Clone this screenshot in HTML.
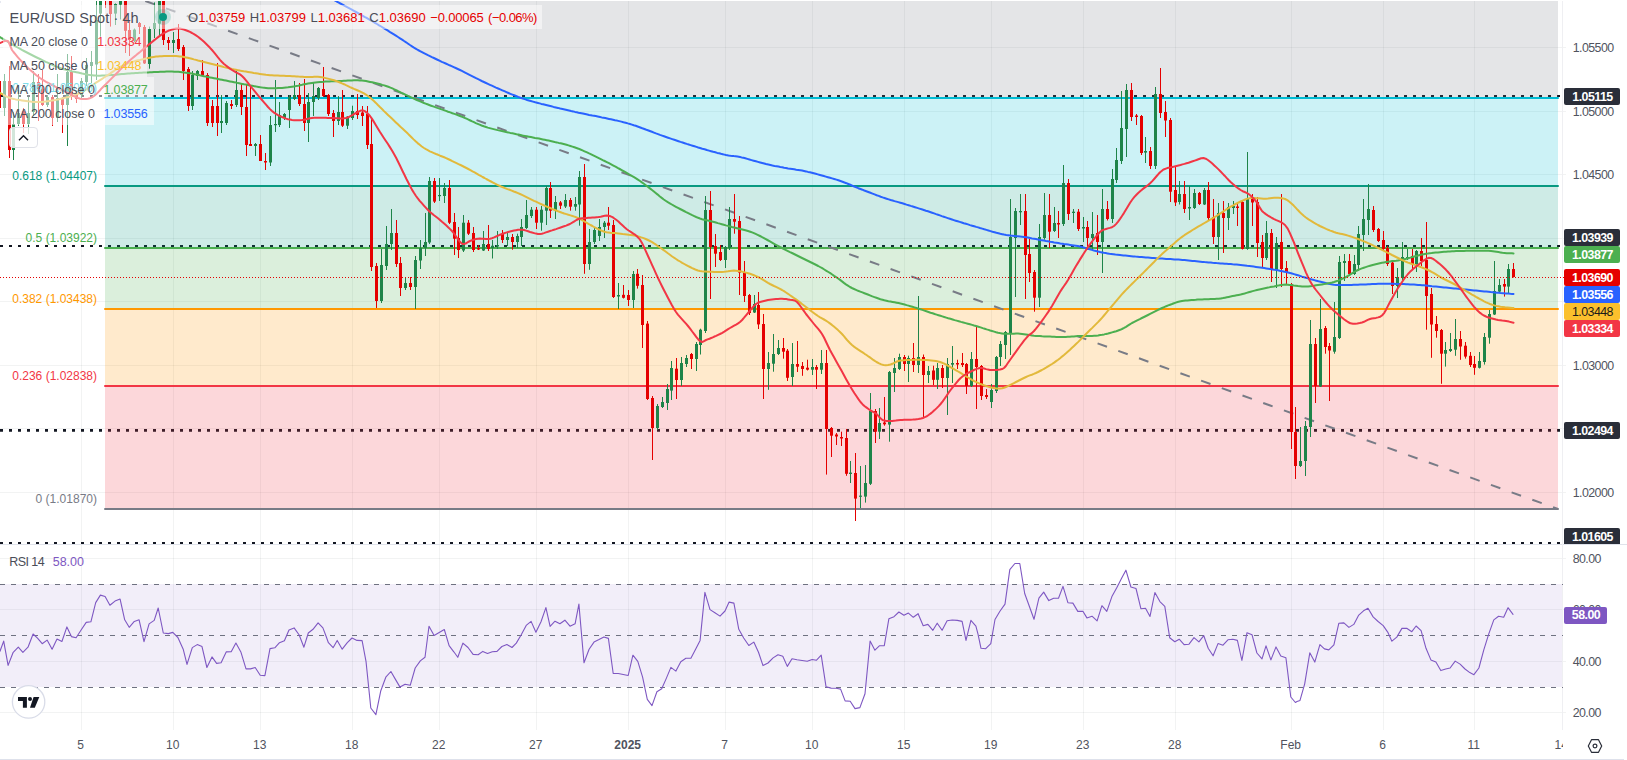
<!DOCTYPE html>
<html><head><meta charset="utf-8"><title>EUR/USD Spot 4h</title>
<style>
html,body{margin:0;padding:0;background:#fff;}
body{width:1627px;height:760px;overflow:hidden;position:relative;font-family:"Liberation Sans",sans-serif;color:#131722;}
#wrap{position:absolute;left:0;top:0;width:1627px;height:760px;overflow:hidden;box-sizing:border-box;border-top:1px solid #fff;}
#wrap>svg.chart{position:absolute;left:0;top:-1px;}
#ov{position:absolute;left:0;top:-1px;width:1627px;height:760px;}
.pl{position:absolute;left:1564px;width:56px;border-radius:2px;font-size:12.4px;font-weight:bold;text-align:center;letter-spacing:-0.55px;box-sizing:border-box;padding-left:1px}
.tk{position:absolute;left:1572.7px;font-size:12.4px;line-height:16px;color:#50535e;letter-spacing:-0.55px}
.tl{position:absolute;top:7px;width:60px;text-align:center;font-size:12px;line-height:16px;color:#50535e}
.fl{position:absolute;left:0;text-align:right;font-size:12px;line-height:16px;letter-spacing:0px;white-space:nowrap}
.lg{position:absolute;background:rgba(255,255,255,0.5)}
.lgt{position:absolute;line-height:22px;color:#4a4d58;white-space:nowrap}
.ohlc{position:absolute;font-size:13px;line-height:18px;color:#e50000;white-space:nowrap;letter-spacing:0px;word-spacing:0.9px}
.ohlc .k{color:#4a4d58;margin-right:0px}
.mal{position:absolute;font-size:12.5px;line-height:16px;color:#4a4d58;white-space:nowrap;letter-spacing:0px}
#bot{position:absolute;left:0;top:758px;width:1624px;height:1px;background:#dee1eb}
#top{position:absolute;left:0;top:-1px;width:1624px;height:1px;background:#dee1eb}
#cor{position:absolute;left:0;top:0;width:1px;height:2px;background:#e6e8f0}
</style></head>
<body>
<div id="wrap">
<svg class="chart" width="1627" height="760" viewBox="0 0 1627 760" shape-rendering="auto">
<line x1="81.5" y1="0" x2="81.5" y2="730" stroke="rgba(42,46,57,0.06)" stroke-width="1"/>
<line x1="173.5" y1="0" x2="173.5" y2="730" stroke="rgba(42,46,57,0.06)" stroke-width="1"/>
<line x1="260.5" y1="0" x2="260.5" y2="730" stroke="rgba(42,46,57,0.06)" stroke-width="1"/>
<line x1="352.5" y1="0" x2="352.5" y2="730" stroke="rgba(42,46,57,0.06)" stroke-width="1"/>
<line x1="439.5" y1="0" x2="439.5" y2="730" stroke="rgba(42,46,57,0.06)" stroke-width="1"/>
<line x1="536.5" y1="0" x2="536.5" y2="730" stroke="rgba(42,46,57,0.06)" stroke-width="1"/>
<line x1="628.5" y1="0" x2="628.5" y2="730" stroke="rgba(42,46,57,0.06)" stroke-width="1"/>
<line x1="725.5" y1="0" x2="725.5" y2="730" stroke="rgba(42,46,57,0.06)" stroke-width="1"/>
<line x1="812.5" y1="0" x2="812.5" y2="730" stroke="rgba(42,46,57,0.06)" stroke-width="1"/>
<line x1="904.5" y1="0" x2="904.5" y2="730" stroke="rgba(42,46,57,0.06)" stroke-width="1"/>
<line x1="991.5" y1="0" x2="991.5" y2="730" stroke="rgba(42,46,57,0.06)" stroke-width="1"/>
<line x1="1083.5" y1="0" x2="1083.5" y2="730" stroke="rgba(42,46,57,0.06)" stroke-width="1"/>
<line x1="1175.5" y1="0" x2="1175.5" y2="730" stroke="rgba(42,46,57,0.06)" stroke-width="1"/>
<line x1="1291.5" y1="0" x2="1291.5" y2="730" stroke="rgba(42,46,57,0.06)" stroke-width="1"/>
<line x1="1383.5" y1="0" x2="1383.5" y2="730" stroke="rgba(42,46,57,0.06)" stroke-width="1"/>
<line x1="1474.5" y1="0" x2="1474.5" y2="730" stroke="rgba(42,46,57,0.06)" stroke-width="1"/>
<line x1="0" y1="47.5" x2="1566" y2="47.5" stroke="rgba(42,46,57,0.06)" stroke-width="1"/>
<line x1="0" y1="111.5" x2="1566" y2="111.5" stroke="rgba(42,46,57,0.06)" stroke-width="1"/>
<line x1="0" y1="174.5" x2="1566" y2="174.5" stroke="rgba(42,46,57,0.06)" stroke-width="1"/>
<line x1="0" y1="238.5" x2="1566" y2="238.5" stroke="rgba(42,46,57,0.06)" stroke-width="1"/>
<line x1="0" y1="301.5" x2="1566" y2="301.5" stroke="rgba(42,46,57,0.06)" stroke-width="1"/>
<line x1="0" y1="365.5" x2="1566" y2="365.5" stroke="rgba(42,46,57,0.06)" stroke-width="1"/>
<line x1="0" y1="428.5" x2="1566" y2="428.5" stroke="rgba(42,46,57,0.06)" stroke-width="1"/>
<line x1="0" y1="492.5" x2="1566" y2="492.5" stroke="rgba(42,46,57,0.06)" stroke-width="1"/>
<line x1="0" y1="558.5" x2="1566" y2="558.5" stroke="rgba(42,46,57,0.06)" stroke-width="1"/>
<line x1="0" y1="609.5" x2="1566" y2="609.5" stroke="rgba(42,46,57,0.06)" stroke-width="1"/>
<line x1="0" y1="661.5" x2="1566" y2="661.5" stroke="rgba(42,46,57,0.06)" stroke-width="1"/>
<line x1="0" y1="712.5" x2="1566" y2="712.5" stroke="rgba(42,46,57,0.06)" stroke-width="1"/>
<line x1="0" y1="96" x2="1560" y2="96" stroke="#131722" stroke-width="2" stroke-dasharray="3 6"/>
<line x1="0" y1="246" x2="1560" y2="246" stroke="#131722" stroke-width="2" stroke-dasharray="3 6"/>
<line x1="0" y1="430.4" x2="1560" y2="430.4" stroke="#131722" stroke-width="2.7" stroke-dasharray="3 6"/>
<line x1="0" y1="543" x2="1560" y2="543" stroke="#131722" stroke-width="2" stroke-dasharray="3 6"/>
<rect x="105" y="0" width="1453" height="98" fill="rgba(120,123,134,0.2)"/>
<rect x="105" y="98" width="1453" height="88" fill="rgba(0,188,212,0.2)"/>
<rect x="105" y="186" width="1453" height="62" fill="rgba(8,153,129,0.2)"/>
<rect x="105" y="248" width="1453" height="61" fill="rgba(76,175,80,0.2)"/>
<rect x="105" y="309" width="1453" height="77" fill="rgba(255,152,0,0.2)"/>
<rect x="105" y="386" width="1453" height="123" fill="rgba(242,54,69,0.2)"/>
<rect x="0" y="584" width="1563" height="103" fill="rgba(126,87,194,0.1)"/>
<line x1="105" y1="98" x2="1558" y2="98" stroke="#00bcd4" stroke-width="2" stroke-linecap="round"/>
<line x1="105" y1="186" x2="1558" y2="186" stroke="#089981" stroke-width="2" stroke-linecap="round"/>
<line x1="105" y1="248" x2="1558" y2="248" stroke="#4caf50" stroke-width="2" stroke-linecap="round"/>
<line x1="105" y1="309" x2="1558" y2="309" stroke="#ff9800" stroke-width="2" stroke-linecap="round"/>
<line x1="105" y1="386" x2="1558" y2="386" stroke="#f23645" stroke-width="2" stroke-linecap="round"/>
<line x1="105" y1="509" x2="1558" y2="509" stroke="#787b86" stroke-width="2" stroke-linecap="round"/>
<line x1="145.3" y1="0.95" x2="1558" y2="509" stroke="#787b86" stroke-width="2" stroke-dasharray="10 12"/>
<line x1="-0.5" y1="78.0" x2="-0.5" y2="110.0" stroke="#e50000" stroke-width="1"/>
<rect x="-2.0" y="81.0" width="3" height="27.0" fill="#e50000"/>
<line x1="4.5" y1="74.0" x2="4.5" y2="116.0" stroke="#1e8449" stroke-width="1"/>
<rect x="3.0" y="81.0" width="3" height="27.0" fill="#1e8449"/>
<line x1="9.5" y1="66.0" x2="9.5" y2="158.0" stroke="#e50000" stroke-width="1"/>
<rect x="8.0" y="81.0" width="3" height="69.0" fill="#e50000"/>
<line x1="13.5" y1="112.0" x2="13.5" y2="160.0" stroke="#1e8449" stroke-width="1"/>
<rect x="12.0" y="124.0" width="3" height="26.0" fill="#1e8449"/>
<line x1="18.5" y1="90.0" x2="18.5" y2="126.0" stroke="#1e8449" stroke-width="1"/>
<rect x="17.0" y="113.0" width="3" height="11.0" fill="#1e8449"/>
<line x1="23.5" y1="108.0" x2="23.5" y2="133.0" stroke="#e50000" stroke-width="1"/>
<rect x="22.0" y="111.0" width="3" height="13.0" fill="#e50000"/>
<line x1="28.5" y1="97.0" x2="28.5" y2="134.0" stroke="#1e8449" stroke-width="1"/>
<rect x="27.0" y="113.0" width="3" height="11.0" fill="#1e8449"/>
<line x1="33.5" y1="71.0" x2="33.5" y2="116.0" stroke="#1e8449" stroke-width="1"/>
<rect x="32.0" y="82.0" width="3" height="30.0" fill="#1e8449"/>
<line x1="38.5" y1="74.0" x2="38.5" y2="121.0" stroke="#e50000" stroke-width="1"/>
<rect x="37.0" y="82.0" width="3" height="7.0" fill="#e50000"/>
<line x1="42.5" y1="70.0" x2="42.5" y2="106.0" stroke="#e50000" stroke-width="1"/>
<rect x="41.0" y="89.0" width="3" height="16.0" fill="#e50000"/>
<line x1="47.5" y1="95.0" x2="47.5" y2="107.0" stroke="#1e8449" stroke-width="1"/>
<rect x="46.0" y="97.0" width="3" height="8.0" fill="#1e8449"/>
<line x1="52.5" y1="95.0" x2="52.5" y2="126.0" stroke="#e50000" stroke-width="1"/>
<rect x="51.0" y="97.0" width="3" height="21.0" fill="#e50000"/>
<line x1="57.5" y1="74.0" x2="57.5" y2="122.0" stroke="#1e8449" stroke-width="1"/>
<rect x="56.0" y="98.0" width="3" height="20.0" fill="#1e8449"/>
<line x1="62.5" y1="97.0" x2="62.5" y2="133.0" stroke="#e50000" stroke-width="1"/>
<rect x="61.0" y="98.0" width="3" height="7.0" fill="#e50000"/>
<line x1="67.5" y1="54.0" x2="67.5" y2="146.0" stroke="#1e8449" stroke-width="1"/>
<rect x="66.0" y="72.0" width="3" height="33.0" fill="#1e8449"/>
<line x1="71.5" y1="56.0" x2="71.5" y2="100.0" stroke="#e50000" stroke-width="1"/>
<rect x="70.0" y="72.0" width="3" height="25.0" fill="#e50000"/>
<line x1="76.5" y1="91.0" x2="76.5" y2="103.0" stroke="#e50000" stroke-width="1"/>
<rect x="75.0" y="95.0" width="3" height="4.0" fill="#e50000"/>
<line x1="81.5" y1="78.0" x2="81.5" y2="99.0" stroke="#1e8449" stroke-width="1"/>
<rect x="80.0" y="81.0" width="3" height="14.0" fill="#1e8449"/>
<line x1="86.5" y1="58.0" x2="86.5" y2="86.0" stroke="#1e8449" stroke-width="1"/>
<rect x="85.0" y="65.0" width="3" height="17.0" fill="#1e8449"/>
<line x1="91.5" y1="51.0" x2="91.5" y2="83.0" stroke="#1e8449" stroke-width="1"/>
<rect x="90.0" y="62.0" width="3" height="4.0" fill="#1e8449"/>
<line x1="96.5" y1="-5.0" x2="96.5" y2="80.0" stroke="#1e8449" stroke-width="1"/>
<rect x="95.0" y="20.0" width="3" height="44.5" fill="#1e8449"/>
<line x1="100.5" y1="-5.0" x2="100.5" y2="36.7" stroke="#1e8449" stroke-width="1"/>
<rect x="99.0" y="0.0" width="3" height="13.6" fill="#1e8449"/>
<line x1="105.5" y1="-8.0" x2="105.5" y2="8.0" stroke="#e50000" stroke-width="1"/>
<rect x="104.0" y="-5.0" width="3" height="6.0" fill="#e50000"/>
<line x1="110.5" y1="-8.0" x2="110.5" y2="26.6" stroke="#e50000" stroke-width="1"/>
<rect x="109.0" y="-5.0" width="3" height="19.0" fill="#e50000"/>
<line x1="115.5" y1="3.5" x2="115.5" y2="25.0" stroke="#1e8449" stroke-width="1"/>
<rect x="114.0" y="4.0" width="3" height="9.6" fill="#1e8449"/>
<line x1="120.5" y1="-6.0" x2="120.5" y2="19.5" stroke="#1e8449" stroke-width="1"/>
<rect x="119.0" y="-3.0" width="3" height="7.7" fill="#1e8449"/>
<line x1="125.5" y1="-6.0" x2="125.5" y2="53.0" stroke="#e50000" stroke-width="1"/>
<rect x="124.0" y="-3.0" width="3" height="33.8" fill="#e50000"/>
<line x1="129.5" y1="21.0" x2="129.5" y2="56.0" stroke="#e50000" stroke-width="1"/>
<rect x="128.0" y="30.0" width="3" height="10.0" fill="#e50000"/>
<line x1="134.5" y1="28.5" x2="134.5" y2="42.0" stroke="#1e8449" stroke-width="1"/>
<rect x="133.0" y="29.6" width="3" height="11.4" fill="#1e8449"/>
<line x1="139.5" y1="22.0" x2="139.5" y2="34.0" stroke="#e50000" stroke-width="1"/>
<rect x="138.0" y="23.0" width="3" height="4.0" fill="#e50000"/>
<line x1="144.5" y1="25.0" x2="144.5" y2="64.0" stroke="#e50000" stroke-width="1"/>
<rect x="143.0" y="27.0" width="3" height="36.4" fill="#e50000"/>
<line x1="149.5" y1="26.6" x2="149.5" y2="68.7" stroke="#1e8449" stroke-width="1"/>
<rect x="148.0" y="29.0" width="3" height="35.0" fill="#1e8449"/>
<line x1="154.5" y1="2.4" x2="154.5" y2="38.0" stroke="#1e8449" stroke-width="1"/>
<rect x="153.0" y="23.0" width="3" height="6.0" fill="#1e8449"/>
<line x1="159.5" y1="-5.0" x2="159.5" y2="36.0" stroke="#1e8449" stroke-width="1"/>
<rect x="158.0" y="-2.0" width="3" height="25.7" fill="#1e8449"/>
<line x1="163.5" y1="-5.0" x2="163.5" y2="45.0" stroke="#e50000" stroke-width="1"/>
<rect x="162.0" y="-2.0" width="3" height="42.0" fill="#e50000"/>
<line x1="168.5" y1="37.0" x2="168.5" y2="50.0" stroke="#e50000" stroke-width="1"/>
<rect x="167.0" y="40.0" width="3" height="3.0" fill="#e50000"/>
<line x1="173.5" y1="32.0" x2="173.5" y2="53.0" stroke="#1e8449" stroke-width="1"/>
<rect x="172.0" y="40.0" width="3" height="3.0" fill="#1e8449"/>
<line x1="178.5" y1="24.0" x2="178.5" y2="51.0" stroke="#e50000" stroke-width="1"/>
<rect x="177.0" y="39.0" width="3" height="10.0" fill="#e50000"/>
<line x1="183.5" y1="45.0" x2="183.5" y2="80.0" stroke="#e50000" stroke-width="1"/>
<rect x="182.0" y="47.0" width="3" height="24.0" fill="#e50000"/>
<line x1="188.5" y1="67.0" x2="188.5" y2="111.0" stroke="#e50000" stroke-width="1"/>
<rect x="187.0" y="69.0" width="3" height="37.0" fill="#e50000"/>
<line x1="192.5" y1="71.0" x2="192.5" y2="110.0" stroke="#1e8449" stroke-width="1"/>
<rect x="191.0" y="75.0" width="3" height="31.0" fill="#1e8449"/>
<line x1="197.5" y1="70.0" x2="197.5" y2="80.0" stroke="#1e8449" stroke-width="1"/>
<rect x="196.0" y="71.0" width="3" height="5.0" fill="#1e8449"/>
<line x1="202.5" y1="60.0" x2="202.5" y2="76.0" stroke="#e50000" stroke-width="1"/>
<rect x="201.0" y="71.0" width="3" height="4.0" fill="#e50000"/>
<line x1="207.5" y1="73.0" x2="207.5" y2="126.0" stroke="#e50000" stroke-width="1"/>
<rect x="206.0" y="75.0" width="3" height="48.0" fill="#e50000"/>
<line x1="212.5" y1="100.0" x2="212.5" y2="127.0" stroke="#e50000" stroke-width="1"/>
<rect x="211.0" y="106.0" width="3" height="17.0" fill="#e50000"/>
<line x1="217.5" y1="63.0" x2="217.5" y2="136.0" stroke="#e50000" stroke-width="1"/>
<rect x="216.0" y="106.0" width="3" height="17.0" fill="#e50000"/>
<line x1="221.5" y1="95.0" x2="221.5" y2="133.0" stroke="#1e8449" stroke-width="1"/>
<rect x="220.0" y="121.0" width="3" height="2.0" fill="#1e8449"/>
<line x1="226.5" y1="101.0" x2="226.5" y2="125.0" stroke="#1e8449" stroke-width="1"/>
<rect x="225.0" y="103.0" width="3" height="20.0" fill="#1e8449"/>
<line x1="231.5" y1="100.0" x2="231.5" y2="109.0" stroke="#e50000" stroke-width="1"/>
<rect x="230.0" y="104.0" width="3" height="2.0" fill="#e50000"/>
<line x1="236.5" y1="71.0" x2="236.5" y2="107.0" stroke="#1e8449" stroke-width="1"/>
<rect x="235.0" y="90.0" width="3" height="15.0" fill="#1e8449"/>
<line x1="241.5" y1="84.0" x2="241.5" y2="115.0" stroke="#e50000" stroke-width="1"/>
<rect x="240.0" y="90.0" width="3" height="17.0" fill="#e50000"/>
<line x1="246.5" y1="84.0" x2="246.5" y2="156.0" stroke="#e50000" stroke-width="1"/>
<rect x="245.0" y="107.0" width="3" height="38.0" fill="#e50000"/>
<line x1="250.5" y1="86.0" x2="250.5" y2="146.0" stroke="#e50000" stroke-width="1"/>
<rect x="249.0" y="144.0" width="3" height="2.0" fill="#e50000"/>
<line x1="255.5" y1="143.0" x2="255.5" y2="156.0" stroke="#1e8449" stroke-width="1"/>
<rect x="254.0" y="144.0" width="3" height="2.0" fill="#1e8449"/>
<line x1="260.5" y1="135.0" x2="260.5" y2="161.0" stroke="#e50000" stroke-width="1"/>
<rect x="259.0" y="144.0" width="3" height="17.0" fill="#e50000"/>
<line x1="265.5" y1="153.0" x2="265.5" y2="170.0" stroke="#e50000" stroke-width="1"/>
<rect x="264.0" y="161.0" width="3" height="1.5" fill="#e50000"/>
<line x1="270.5" y1="116.0" x2="270.5" y2="166.0" stroke="#1e8449" stroke-width="1"/>
<rect x="269.0" y="125.0" width="3" height="37.5" fill="#1e8449"/>
<line x1="275.5" y1="80.0" x2="275.5" y2="132.0" stroke="#1e8449" stroke-width="1"/>
<rect x="274.0" y="124.0" width="3" height="1.2" fill="#1e8449"/>
<line x1="279.5" y1="102.0" x2="279.5" y2="127.0" stroke="#1e8449" stroke-width="1"/>
<rect x="278.0" y="115.0" width="3" height="10.0" fill="#1e8449"/>
<line x1="284.5" y1="113.0" x2="284.5" y2="120.0" stroke="#1e8449" stroke-width="1"/>
<rect x="283.0" y="114.0" width="3" height="4.0" fill="#1e8449"/>
<line x1="289.5" y1="95.0" x2="289.5" y2="128.0" stroke="#1e8449" stroke-width="1"/>
<rect x="288.0" y="97.0" width="3" height="13.0" fill="#1e8449"/>
<line x1="294.5" y1="81.0" x2="294.5" y2="100.0" stroke="#1e8449" stroke-width="1"/>
<rect x="293.0" y="95.0" width="3" height="4.0" fill="#1e8449"/>
<line x1="299.5" y1="83.0" x2="299.5" y2="106.0" stroke="#e50000" stroke-width="1"/>
<rect x="298.0" y="95.0" width="3" height="9.0" fill="#e50000"/>
<line x1="304.5" y1="79.0" x2="304.5" y2="131.0" stroke="#e50000" stroke-width="1"/>
<rect x="303.0" y="104.0" width="3" height="19.0" fill="#e50000"/>
<line x1="308.5" y1="93.0" x2="308.5" y2="142.0" stroke="#1e8449" stroke-width="1"/>
<rect x="307.0" y="102.0" width="3" height="21.0" fill="#1e8449"/>
<line x1="313.5" y1="82.0" x2="313.5" y2="116.0" stroke="#1e8449" stroke-width="1"/>
<rect x="312.0" y="96.0" width="3" height="6.0" fill="#1e8449"/>
<line x1="318.5" y1="87.0" x2="318.5" y2="100.0" stroke="#1e8449" stroke-width="1"/>
<rect x="317.0" y="88.0" width="3" height="10.0" fill="#1e8449"/>
<line x1="323.5" y1="67.0" x2="323.5" y2="97.0" stroke="#e50000" stroke-width="1"/>
<rect x="322.0" y="89.0" width="3" height="7.0" fill="#e50000"/>
<line x1="328.5" y1="94.0" x2="328.5" y2="116.0" stroke="#e50000" stroke-width="1"/>
<rect x="327.0" y="95.0" width="3" height="19.0" fill="#e50000"/>
<line x1="333.5" y1="110.0" x2="333.5" y2="137.0" stroke="#e50000" stroke-width="1"/>
<rect x="332.0" y="113.0" width="3" height="8.0" fill="#e50000"/>
<line x1="338.5" y1="96.0" x2="338.5" y2="125.0" stroke="#1e8449" stroke-width="1"/>
<rect x="337.0" y="112.0" width="3" height="9.0" fill="#1e8449"/>
<line x1="342.5" y1="90.0" x2="342.5" y2="127.0" stroke="#e50000" stroke-width="1"/>
<rect x="341.0" y="112.0" width="3" height="13.7" fill="#e50000"/>
<line x1="347.5" y1="116.0" x2="347.5" y2="129.0" stroke="#1e8449" stroke-width="1"/>
<rect x="346.0" y="116.7" width="3" height="9.0" fill="#1e8449"/>
<line x1="352.5" y1="105.7" x2="352.5" y2="120.0" stroke="#1e8449" stroke-width="1"/>
<rect x="351.0" y="111.0" width="3" height="7.0" fill="#1e8449"/>
<line x1="357.5" y1="94.0" x2="357.5" y2="119.0" stroke="#e50000" stroke-width="1"/>
<rect x="356.0" y="111.0" width="3" height="4.0" fill="#e50000"/>
<line x1="362.5" y1="106.0" x2="362.5" y2="126.0" stroke="#e50000" stroke-width="1"/>
<rect x="361.0" y="112.5" width="3" height="3.5" fill="#e50000"/>
<line x1="367.5" y1="106.0" x2="367.5" y2="149.0" stroke="#e50000" stroke-width="1"/>
<rect x="366.0" y="114.0" width="3" height="31.0" fill="#e50000"/>
<line x1="371.5" y1="119.0" x2="371.5" y2="271.0" stroke="#e50000" stroke-width="1"/>
<rect x="370.0" y="144.0" width="3" height="123.0" fill="#e50000"/>
<line x1="376.5" y1="263.0" x2="376.5" y2="308.0" stroke="#e50000" stroke-width="1"/>
<rect x="375.0" y="266.0" width="3" height="35.0" fill="#e50000"/>
<line x1="381.5" y1="249.0" x2="381.5" y2="303.0" stroke="#1e8449" stroke-width="1"/>
<rect x="380.0" y="265.0" width="3" height="36.0" fill="#1e8449"/>
<line x1="386.5" y1="226.0" x2="386.5" y2="270.0" stroke="#1e8449" stroke-width="1"/>
<rect x="385.0" y="244.0" width="3" height="22.0" fill="#1e8449"/>
<line x1="391.5" y1="209.0" x2="391.5" y2="250.0" stroke="#1e8449" stroke-width="1"/>
<rect x="390.0" y="233.0" width="3" height="11.0" fill="#1e8449"/>
<line x1="396.5" y1="220.0" x2="396.5" y2="267.0" stroke="#e50000" stroke-width="1"/>
<rect x="395.0" y="233.0" width="3" height="31.0" fill="#e50000"/>
<line x1="400.5" y1="257.0" x2="400.5" y2="296.0" stroke="#e50000" stroke-width="1"/>
<rect x="399.0" y="263.0" width="3" height="25.0" fill="#e50000"/>
<line x1="405.5" y1="277.0" x2="405.5" y2="290.0" stroke="#1e8449" stroke-width="1"/>
<rect x="404.0" y="283.0" width="3" height="5.0" fill="#1e8449"/>
<line x1="410.5" y1="277.0" x2="410.5" y2="290.0" stroke="#e50000" stroke-width="1"/>
<rect x="409.0" y="283.0" width="3" height="4.0" fill="#e50000"/>
<line x1="415.5" y1="256.0" x2="415.5" y2="309.0" stroke="#1e8449" stroke-width="1"/>
<rect x="414.0" y="260.0" width="3" height="27.0" fill="#1e8449"/>
<line x1="420.5" y1="240.0" x2="420.5" y2="269.0" stroke="#1e8449" stroke-width="1"/>
<rect x="419.0" y="248.0" width="3" height="12.5" fill="#1e8449"/>
<line x1="425.5" y1="213.0" x2="425.5" y2="256.0" stroke="#1e8449" stroke-width="1"/>
<rect x="424.0" y="242.0" width="3" height="6.0" fill="#1e8449"/>
<line x1="429.5" y1="177.0" x2="429.5" y2="244.0" stroke="#1e8449" stroke-width="1"/>
<rect x="428.0" y="181.0" width="3" height="61.5" fill="#1e8449"/>
<line x1="434.5" y1="178.0" x2="434.5" y2="203.0" stroke="#e50000" stroke-width="1"/>
<rect x="433.0" y="181.0" width="3" height="20.6" fill="#e50000"/>
<line x1="439.5" y1="178.0" x2="439.5" y2="201.0" stroke="#1e8449" stroke-width="1"/>
<rect x="438.0" y="195.0" width="3" height="1.2" fill="#1e8449"/>
<line x1="444.5" y1="183.0" x2="444.5" y2="203.0" stroke="#1e8449" stroke-width="1"/>
<rect x="443.0" y="188.0" width="3" height="8.0" fill="#1e8449"/>
<line x1="449.5" y1="180.0" x2="449.5" y2="224.0" stroke="#e50000" stroke-width="1"/>
<rect x="448.0" y="188.0" width="3" height="34.7" fill="#e50000"/>
<line x1="454.5" y1="213.0" x2="454.5" y2="255.0" stroke="#e50000" stroke-width="1"/>
<rect x="453.0" y="222.0" width="3" height="16.7" fill="#e50000"/>
<line x1="458.5" y1="227.0" x2="458.5" y2="258.0" stroke="#e50000" stroke-width="1"/>
<rect x="457.0" y="238.0" width="3" height="12.0" fill="#e50000"/>
<line x1="463.5" y1="215.0" x2="463.5" y2="252.0" stroke="#1e8449" stroke-width="1"/>
<rect x="462.0" y="222.7" width="3" height="27.8" fill="#1e8449"/>
<line x1="468.5" y1="220.0" x2="468.5" y2="235.0" stroke="#e50000" stroke-width="1"/>
<rect x="467.0" y="222.7" width="3" height="11.0" fill="#e50000"/>
<line x1="473.5" y1="227.0" x2="473.5" y2="252.0" stroke="#e50000" stroke-width="1"/>
<rect x="472.0" y="233.0" width="3" height="17.0" fill="#e50000"/>
<line x1="478.5" y1="245.0" x2="478.5" y2="250.0" stroke="#e50000" stroke-width="1"/>
<rect x="477.0" y="248.0" width="3" height="1.5" fill="#e50000"/>
<line x1="483.5" y1="231.0" x2="483.5" y2="251.0" stroke="#1e8449" stroke-width="1"/>
<rect x="482.0" y="244.0" width="3" height="6.5" fill="#1e8449"/>
<line x1="488.5" y1="225.0" x2="488.5" y2="251.0" stroke="#e50000" stroke-width="1"/>
<rect x="487.0" y="244.0" width="3" height="5.0" fill="#e50000"/>
<line x1="492.5" y1="240.0" x2="492.5" y2="258.5" stroke="#1e8449" stroke-width="1"/>
<rect x="491.0" y="245.7" width="3" height="2.3" fill="#1e8449"/>
<line x1="497.5" y1="231.0" x2="497.5" y2="249.0" stroke="#1e8449" stroke-width="1"/>
<rect x="496.0" y="245.0" width="3" height="1.5" fill="#1e8449"/>
<line x1="502.5" y1="230.0" x2="502.5" y2="243.0" stroke="#e50000" stroke-width="1"/>
<rect x="501.0" y="234.0" width="3" height="6.0" fill="#e50000"/>
<line x1="507.5" y1="232.5" x2="507.5" y2="246.0" stroke="#1e8449" stroke-width="1"/>
<rect x="506.0" y="237.0" width="3" height="3.0" fill="#1e8449"/>
<line x1="512.5" y1="234.0" x2="512.5" y2="249.7" stroke="#e50000" stroke-width="1"/>
<rect x="511.0" y="237.0" width="3" height="5.0" fill="#e50000"/>
<line x1="517.5" y1="233.7" x2="517.5" y2="248.0" stroke="#1e8449" stroke-width="1"/>
<rect x="516.0" y="236.0" width="3" height="6.0" fill="#1e8449"/>
<line x1="521.5" y1="219.0" x2="521.5" y2="246.0" stroke="#1e8449" stroke-width="1"/>
<rect x="520.0" y="227.0" width="3" height="10.0" fill="#1e8449"/>
<line x1="526.5" y1="200.0" x2="526.5" y2="229.0" stroke="#1e8449" stroke-width="1"/>
<rect x="525.0" y="215.0" width="3" height="13.0" fill="#1e8449"/>
<line x1="531.5" y1="207.0" x2="531.5" y2="218.0" stroke="#1e8449" stroke-width="1"/>
<rect x="530.0" y="209.7" width="3" height="6.3" fill="#1e8449"/>
<line x1="536.5" y1="207.0" x2="536.5" y2="229.0" stroke="#e50000" stroke-width="1"/>
<rect x="535.0" y="209.7" width="3" height="13.0" fill="#e50000"/>
<line x1="541.5" y1="206.0" x2="541.5" y2="230.7" stroke="#1e8449" stroke-width="1"/>
<rect x="540.0" y="209.7" width="3" height="13.0" fill="#1e8449"/>
<line x1="546.5" y1="186.0" x2="546.5" y2="225.0" stroke="#1e8449" stroke-width="1"/>
<rect x="545.0" y="188.0" width="3" height="22.7" fill="#1e8449"/>
<line x1="550.5" y1="182.0" x2="550.5" y2="218.0" stroke="#e50000" stroke-width="1"/>
<rect x="549.0" y="188.0" width="3" height="22.7" fill="#e50000"/>
<line x1="555.5" y1="196.0" x2="555.5" y2="219.0" stroke="#1e8449" stroke-width="1"/>
<rect x="554.0" y="202.0" width="3" height="8.7" fill="#1e8449"/>
<line x1="560.5" y1="201.0" x2="560.5" y2="209.0" stroke="#e50000" stroke-width="1"/>
<rect x="559.0" y="202.4" width="3" height="3.3" fill="#e50000"/>
<line x1="565.5" y1="194.0" x2="565.5" y2="208.0" stroke="#1e8449" stroke-width="1"/>
<rect x="564.0" y="200.0" width="3" height="6.5" fill="#1e8449"/>
<line x1="570.5" y1="198.0" x2="570.5" y2="210.7" stroke="#e50000" stroke-width="1"/>
<rect x="569.0" y="200.0" width="3" height="6.7" fill="#e50000"/>
<line x1="575.5" y1="197.0" x2="575.5" y2="210.7" stroke="#1e8449" stroke-width="1"/>
<rect x="574.0" y="204.0" width="3" height="2.7" fill="#1e8449"/>
<line x1="579.5" y1="171.0" x2="579.5" y2="225.7" stroke="#1e8449" stroke-width="1"/>
<rect x="578.0" y="177.0" width="3" height="27.5" fill="#1e8449"/>
<line x1="584.5" y1="164.0" x2="584.5" y2="273.8" stroke="#e50000" stroke-width="1"/>
<rect x="583.0" y="177.0" width="3" height="87.0" fill="#e50000"/>
<line x1="589.5" y1="229.0" x2="589.5" y2="269.8" stroke="#1e8449" stroke-width="1"/>
<rect x="588.0" y="242.0" width="3" height="22.0" fill="#1e8449"/>
<line x1="594.5" y1="228.0" x2="594.5" y2="244.0" stroke="#1e8449" stroke-width="1"/>
<rect x="593.0" y="230.0" width="3" height="12.0" fill="#1e8449"/>
<line x1="599.5" y1="219.0" x2="599.5" y2="241.0" stroke="#1e8449" stroke-width="1"/>
<rect x="598.0" y="227.0" width="3" height="9.0" fill="#1e8449"/>
<line x1="604.5" y1="221.0" x2="604.5" y2="238.0" stroke="#1e8449" stroke-width="1"/>
<rect x="603.0" y="222.7" width="3" height="4.3" fill="#1e8449"/>
<line x1="608.5" y1="207.0" x2="608.5" y2="230.0" stroke="#e50000" stroke-width="1"/>
<rect x="607.0" y="222.7" width="3" height="3.0" fill="#e50000"/>
<line x1="613.5" y1="220.0" x2="613.5" y2="298.0" stroke="#e50000" stroke-width="1"/>
<rect x="612.0" y="225.0" width="3" height="72.0" fill="#e50000"/>
<line x1="618.5" y1="283.0" x2="618.5" y2="309.0" stroke="#1e8449" stroke-width="1"/>
<rect x="617.0" y="295.0" width="3" height="1.5" fill="#1e8449"/>
<line x1="623.5" y1="285.0" x2="623.5" y2="298.5" stroke="#e50000" stroke-width="1"/>
<rect x="622.0" y="294.8" width="3" height="3.0" fill="#e50000"/>
<line x1="628.5" y1="290.0" x2="628.5" y2="306.0" stroke="#e50000" stroke-width="1"/>
<rect x="627.0" y="295.0" width="3" height="5.0" fill="#e50000"/>
<line x1="633.5" y1="271.0" x2="633.5" y2="308.0" stroke="#1e8449" stroke-width="1"/>
<rect x="632.0" y="274.0" width="3" height="26.0" fill="#1e8449"/>
<line x1="637.5" y1="269.0" x2="637.5" y2="288.6" stroke="#e50000" stroke-width="1"/>
<rect x="636.0" y="273.8" width="3" height="12.0" fill="#e50000"/>
<line x1="642.5" y1="275.0" x2="642.5" y2="348.0" stroke="#e50000" stroke-width="1"/>
<rect x="641.0" y="285.0" width="3" height="40.0" fill="#e50000"/>
<line x1="647.5" y1="321.0" x2="647.5" y2="400.0" stroke="#e50000" stroke-width="1"/>
<rect x="646.0" y="323.6" width="3" height="75.4" fill="#e50000"/>
<line x1="652.5" y1="396.0" x2="652.5" y2="460.0" stroke="#e50000" stroke-width="1"/>
<rect x="651.0" y="398.0" width="3" height="30.0" fill="#e50000"/>
<line x1="657.5" y1="404.0" x2="657.5" y2="430.0" stroke="#1e8449" stroke-width="1"/>
<rect x="656.0" y="406.0" width="3" height="22.0" fill="#1e8449"/>
<line x1="662.5" y1="397.0" x2="662.5" y2="408.0" stroke="#1e8449" stroke-width="1"/>
<rect x="661.0" y="402.0" width="3" height="5.0" fill="#1e8449"/>
<line x1="667.5" y1="384.0" x2="667.5" y2="410.0" stroke="#1e8449" stroke-width="1"/>
<rect x="666.0" y="389.0" width="3" height="14.0" fill="#1e8449"/>
<line x1="671.5" y1="361.0" x2="671.5" y2="400.0" stroke="#1e8449" stroke-width="1"/>
<rect x="670.0" y="368.0" width="3" height="22.6" fill="#1e8449"/>
<line x1="676.5" y1="358.0" x2="676.5" y2="399.0" stroke="#e50000" stroke-width="1"/>
<rect x="675.0" y="368.7" width="3" height="11.3" fill="#e50000"/>
<line x1="681.5" y1="357.0" x2="681.5" y2="386.0" stroke="#1e8449" stroke-width="1"/>
<rect x="680.0" y="363.0" width="3" height="17.0" fill="#1e8449"/>
<line x1="686.5" y1="355.0" x2="686.5" y2="367.0" stroke="#1e8449" stroke-width="1"/>
<rect x="685.0" y="358.0" width="3" height="6.0" fill="#1e8449"/>
<line x1="691.5" y1="353.0" x2="691.5" y2="369.0" stroke="#e50000" stroke-width="1"/>
<rect x="690.0" y="354.0" width="3" height="5.0" fill="#e50000"/>
<line x1="696.5" y1="342.0" x2="696.5" y2="371.0" stroke="#1e8449" stroke-width="1"/>
<rect x="695.0" y="344.0" width="3" height="15.0" fill="#1e8449"/>
<line x1="700.5" y1="328.7" x2="700.5" y2="354.5" stroke="#1e8449" stroke-width="1"/>
<rect x="699.0" y="329.7" width="3" height="15.3" fill="#1e8449"/>
<line x1="705.5" y1="196.0" x2="705.5" y2="333.0" stroke="#1e8449" stroke-width="1"/>
<rect x="704.0" y="210.0" width="3" height="121.0" fill="#1e8449"/>
<line x1="710.5" y1="191.0" x2="710.5" y2="299.0" stroke="#e50000" stroke-width="1"/>
<rect x="709.0" y="210.0" width="3" height="37.0" fill="#e50000"/>
<line x1="715.5" y1="234.0" x2="715.5" y2="267.0" stroke="#e50000" stroke-width="1"/>
<rect x="714.0" y="246.0" width="3" height="7.7" fill="#e50000"/>
<line x1="720.5" y1="245.0" x2="720.5" y2="261.0" stroke="#e50000" stroke-width="1"/>
<rect x="719.0" y="252.0" width="3" height="8.0" fill="#e50000"/>
<line x1="725.5" y1="246.0" x2="725.5" y2="268.0" stroke="#1e8449" stroke-width="1"/>
<rect x="724.0" y="247.0" width="3" height="13.0" fill="#1e8449"/>
<line x1="729.5" y1="207.0" x2="729.5" y2="250.0" stroke="#1e8449" stroke-width="1"/>
<rect x="728.0" y="219.0" width="3" height="29.0" fill="#1e8449"/>
<line x1="734.5" y1="194.0" x2="734.5" y2="233.7" stroke="#e50000" stroke-width="1"/>
<rect x="733.0" y="219.0" width="3" height="2.7" fill="#e50000"/>
<line x1="739.5" y1="216.0" x2="739.5" y2="295.0" stroke="#e50000" stroke-width="1"/>
<rect x="738.0" y="221.0" width="3" height="51.6" fill="#e50000"/>
<line x1="744.5" y1="261.0" x2="744.5" y2="302.0" stroke="#e50000" stroke-width="1"/>
<rect x="743.0" y="272.0" width="3" height="24.0" fill="#e50000"/>
<line x1="749.5" y1="294.0" x2="749.5" y2="315.0" stroke="#e50000" stroke-width="1"/>
<rect x="748.0" y="295.0" width="3" height="18.0" fill="#e50000"/>
<line x1="754.5" y1="295.0" x2="754.5" y2="313.0" stroke="#1e8449" stroke-width="1"/>
<rect x="753.0" y="304.0" width="3" height="8.5" fill="#1e8449"/>
<line x1="758.5" y1="292.0" x2="758.5" y2="329.0" stroke="#e50000" stroke-width="1"/>
<rect x="757.0" y="305.0" width="3" height="19.4" fill="#e50000"/>
<line x1="763.5" y1="314.0" x2="763.5" y2="399.0" stroke="#e50000" stroke-width="1"/>
<rect x="762.0" y="324.0" width="3" height="45.0" fill="#e50000"/>
<line x1="768.5" y1="352.0" x2="768.5" y2="389.8" stroke="#1e8449" stroke-width="1"/>
<rect x="767.0" y="363.0" width="3" height="6.0" fill="#1e8449"/>
<line x1="773.5" y1="334.0" x2="773.5" y2="371.7" stroke="#1e8449" stroke-width="1"/>
<rect x="772.0" y="354.0" width="3" height="9.7" fill="#1e8449"/>
<line x1="778.5" y1="340.0" x2="778.5" y2="355.0" stroke="#1e8449" stroke-width="1"/>
<rect x="777.0" y="348.0" width="3" height="6.0" fill="#1e8449"/>
<line x1="783.5" y1="338.0" x2="783.5" y2="358.7" stroke="#e50000" stroke-width="1"/>
<rect x="782.0" y="348.0" width="3" height="3.7" fill="#e50000"/>
<line x1="787.5" y1="349.0" x2="787.5" y2="381.0" stroke="#e50000" stroke-width="1"/>
<rect x="786.0" y="350.7" width="3" height="27.1" fill="#e50000"/>
<line x1="792.5" y1="343.0" x2="792.5" y2="386.0" stroke="#1e8449" stroke-width="1"/>
<rect x="791.0" y="364.0" width="3" height="13.0" fill="#1e8449"/>
<line x1="797.5" y1="341.0" x2="797.5" y2="372.0" stroke="#e50000" stroke-width="1"/>
<rect x="796.0" y="364.0" width="3" height="2.7" fill="#e50000"/>
<line x1="802.5" y1="362.0" x2="802.5" y2="375.8" stroke="#e50000" stroke-width="1"/>
<rect x="801.0" y="366.0" width="3" height="3.0" fill="#e50000"/>
<line x1="807.5" y1="359.7" x2="807.5" y2="370.5" stroke="#e50000" stroke-width="1"/>
<rect x="806.0" y="367.7" width="3" height="2.0" fill="#e50000"/>
<line x1="812.5" y1="359.0" x2="812.5" y2="375.0" stroke="#1e8449" stroke-width="1"/>
<rect x="811.0" y="367.0" width="3" height="2.7" fill="#1e8449"/>
<line x1="816.5" y1="365.0" x2="816.5" y2="389.0" stroke="#e50000" stroke-width="1"/>
<rect x="815.0" y="367.0" width="3" height="2.7" fill="#e50000"/>
<line x1="821.5" y1="350.0" x2="821.5" y2="374.0" stroke="#1e8449" stroke-width="1"/>
<rect x="820.0" y="363.0" width="3" height="6.7" fill="#1e8449"/>
<line x1="826.5" y1="350.0" x2="826.5" y2="474.6" stroke="#e50000" stroke-width="1"/>
<rect x="825.0" y="363.0" width="3" height="66.0" fill="#e50000"/>
<line x1="831.5" y1="427.0" x2="831.5" y2="457.0" stroke="#e50000" stroke-width="1"/>
<rect x="830.0" y="428.0" width="3" height="7.7" fill="#e50000"/>
<line x1="836.5" y1="433.0" x2="836.5" y2="445.0" stroke="#e50000" stroke-width="1"/>
<rect x="835.0" y="434.5" width="3" height="2.0" fill="#e50000"/>
<line x1="841.5" y1="431.7" x2="841.5" y2="446.0" stroke="#e50000" stroke-width="1"/>
<rect x="840.0" y="437.0" width="3" height="1.5" fill="#e50000"/>
<line x1="846.5" y1="429.0" x2="846.5" y2="475.8" stroke="#e50000" stroke-width="1"/>
<rect x="845.0" y="438.0" width="3" height="35.8" fill="#e50000"/>
<line x1="850.5" y1="461.0" x2="850.5" y2="483.0" stroke="#1e8449" stroke-width="1"/>
<rect x="849.0" y="472.6" width="3" height="1.4" fill="#1e8449"/>
<line x1="855.5" y1="453.0" x2="855.5" y2="521.0" stroke="#e50000" stroke-width="1"/>
<rect x="854.0" y="473.0" width="3" height="25.6" fill="#e50000"/>
<line x1="860.5" y1="466.0" x2="860.5" y2="508.0" stroke="#1e8449" stroke-width="1"/>
<rect x="859.0" y="495.6" width="3" height="1.2" fill="#1e8449"/>
<line x1="865.5" y1="465.0" x2="865.5" y2="502.6" stroke="#1e8449" stroke-width="1"/>
<rect x="864.0" y="483.0" width="3" height="13.6" fill="#1e8449"/>
<line x1="870.5" y1="393.0" x2="870.5" y2="485.0" stroke="#1e8449" stroke-width="1"/>
<rect x="869.0" y="411.0" width="3" height="72.8" fill="#1e8449"/>
<line x1="875.5" y1="409.0" x2="875.5" y2="443.0" stroke="#e50000" stroke-width="1"/>
<rect x="874.0" y="411.0" width="3" height="20.7" fill="#e50000"/>
<line x1="879.5" y1="408.0" x2="879.5" y2="439.0" stroke="#1e8449" stroke-width="1"/>
<rect x="878.0" y="423.0" width="3" height="8.7" fill="#1e8449"/>
<line x1="884.5" y1="397.0" x2="884.5" y2="425.7" stroke="#e50000" stroke-width="1"/>
<rect x="883.0" y="422.5" width="3" height="1.8" fill="#e50000"/>
<line x1="889.5" y1="371.0" x2="889.5" y2="441.7" stroke="#1e8449" stroke-width="1"/>
<rect x="888.0" y="372.0" width="3" height="52.6" fill="#1e8449"/>
<line x1="894.5" y1="358.0" x2="894.5" y2="392.0" stroke="#1e8449" stroke-width="1"/>
<rect x="893.0" y="368.0" width="3" height="5.0" fill="#1e8449"/>
<line x1="899.5" y1="353.7" x2="899.5" y2="370.0" stroke="#1e8449" stroke-width="1"/>
<rect x="898.0" y="357.0" width="3" height="12.0" fill="#1e8449"/>
<line x1="904.5" y1="355.0" x2="904.5" y2="371.0" stroke="#e50000" stroke-width="1"/>
<rect x="903.0" y="357.0" width="3" height="7.0" fill="#e50000"/>
<line x1="908.5" y1="355.7" x2="908.5" y2="382.0" stroke="#1e8449" stroke-width="1"/>
<rect x="907.0" y="358.0" width="3" height="6.0" fill="#1e8449"/>
<line x1="913.5" y1="343.0" x2="913.5" y2="372.0" stroke="#e50000" stroke-width="1"/>
<rect x="912.0" y="358.0" width="3" height="7.0" fill="#e50000"/>
<line x1="918.5" y1="296.0" x2="918.5" y2="373.0" stroke="#1e8449" stroke-width="1"/>
<rect x="917.0" y="357.0" width="3" height="8.0" fill="#1e8449"/>
<line x1="923.5" y1="354.5" x2="923.5" y2="418.0" stroke="#e50000" stroke-width="1"/>
<rect x="922.0" y="357.0" width="3" height="18.0" fill="#e50000"/>
<line x1="928.5" y1="366.0" x2="928.5" y2="383.0" stroke="#1e8449" stroke-width="1"/>
<rect x="927.0" y="371.0" width="3" height="4.0" fill="#1e8449"/>
<line x1="933.5" y1="365.7" x2="933.5" y2="385.0" stroke="#e50000" stroke-width="1"/>
<rect x="932.0" y="370.5" width="3" height="9.3" fill="#e50000"/>
<line x1="937.5" y1="363.0" x2="937.5" y2="389.0" stroke="#1e8449" stroke-width="1"/>
<rect x="936.0" y="368.0" width="3" height="11.8" fill="#1e8449"/>
<line x1="942.5" y1="365.0" x2="942.5" y2="388.0" stroke="#e50000" stroke-width="1"/>
<rect x="941.0" y="368.0" width="3" height="10.0" fill="#e50000"/>
<line x1="947.5" y1="358.0" x2="947.5" y2="415.0" stroke="#1e8449" stroke-width="1"/>
<rect x="946.0" y="364.0" width="3" height="14.0" fill="#1e8449"/>
<line x1="952.5" y1="346.0" x2="952.5" y2="383.0" stroke="#1e8449" stroke-width="1"/>
<rect x="951.0" y="363.0" width="3" height="1.7" fill="#1e8449"/>
<line x1="957.5" y1="359.7" x2="957.5" y2="369.0" stroke="#e50000" stroke-width="1"/>
<rect x="956.0" y="363.0" width="3" height="1.5" fill="#e50000"/>
<line x1="962.5" y1="353.0" x2="962.5" y2="367.0" stroke="#e50000" stroke-width="1"/>
<rect x="961.0" y="363.0" width="3" height="2.0" fill="#e50000"/>
<line x1="966.5" y1="363.0" x2="966.5" y2="394.0" stroke="#e50000" stroke-width="1"/>
<rect x="965.0" y="364.0" width="3" height="22.0" fill="#e50000"/>
<line x1="971.5" y1="352.0" x2="971.5" y2="387.0" stroke="#1e8449" stroke-width="1"/>
<rect x="970.0" y="359.0" width="3" height="27.0" fill="#1e8449"/>
<line x1="976.5" y1="326.0" x2="976.5" y2="409.0" stroke="#e50000" stroke-width="1"/>
<rect x="975.0" y="359.0" width="3" height="8.0" fill="#e50000"/>
<line x1="981.5" y1="365.0" x2="981.5" y2="400.0" stroke="#e50000" stroke-width="1"/>
<rect x="980.0" y="366.0" width="3" height="30.0" fill="#e50000"/>
<line x1="986.5" y1="389.0" x2="986.5" y2="399.0" stroke="#e50000" stroke-width="1"/>
<rect x="985.0" y="395.0" width="3" height="2.0" fill="#e50000"/>
<line x1="991.5" y1="384.0" x2="991.5" y2="408.0" stroke="#1e8449" stroke-width="1"/>
<rect x="990.0" y="390.0" width="3" height="12.0" fill="#1e8449"/>
<line x1="996.5" y1="356.0" x2="996.5" y2="393.0" stroke="#1e8449" stroke-width="1"/>
<rect x="995.0" y="357.0" width="3" height="34.0" fill="#1e8449"/>
<line x1="1000.5" y1="341.0" x2="1000.5" y2="366.0" stroke="#1e8449" stroke-width="1"/>
<rect x="999.0" y="344.0" width="3" height="13.0" fill="#1e8449"/>
<line x1="1005.5" y1="331.0" x2="1005.5" y2="359.0" stroke="#1e8449" stroke-width="1"/>
<rect x="1004.0" y="332.0" width="3" height="13.0" fill="#1e8449"/>
<line x1="1010.5" y1="199.0" x2="1010.5" y2="355.0" stroke="#1e8449" stroke-width="1"/>
<rect x="1009.0" y="237.0" width="3" height="96.0" fill="#1e8449"/>
<line x1="1015.5" y1="208.0" x2="1015.5" y2="297.0" stroke="#1e8449" stroke-width="1"/>
<rect x="1014.0" y="211.0" width="3" height="27.0" fill="#1e8449"/>
<line x1="1020.5" y1="194.0" x2="1020.5" y2="225.0" stroke="#1e8449" stroke-width="1"/>
<rect x="1019.0" y="211.0" width="3" height="1.3" fill="#1e8449"/>
<line x1="1025.5" y1="194.0" x2="1025.5" y2="299.0" stroke="#e50000" stroke-width="1"/>
<rect x="1024.0" y="211.0" width="3" height="44.0" fill="#e50000"/>
<line x1="1029.5" y1="239.0" x2="1029.5" y2="282.0" stroke="#e50000" stroke-width="1"/>
<rect x="1028.0" y="254.0" width="3" height="19.0" fill="#e50000"/>
<line x1="1034.5" y1="270.0" x2="1034.5" y2="311.7" stroke="#e50000" stroke-width="1"/>
<rect x="1033.0" y="272.0" width="3" height="25.7" fill="#e50000"/>
<line x1="1039.5" y1="224.0" x2="1039.5" y2="307.0" stroke="#1e8449" stroke-width="1"/>
<rect x="1038.0" y="237.0" width="3" height="60.7" fill="#1e8449"/>
<line x1="1044.5" y1="193.0" x2="1044.5" y2="239.7" stroke="#1e8449" stroke-width="1"/>
<rect x="1043.0" y="215.0" width="3" height="23.0" fill="#1e8449"/>
<line x1="1049.5" y1="194.0" x2="1049.5" y2="248.0" stroke="#e50000" stroke-width="1"/>
<rect x="1048.0" y="215.0" width="3" height="16.7" fill="#e50000"/>
<line x1="1054.5" y1="207.0" x2="1054.5" y2="232.0" stroke="#1e8449" stroke-width="1"/>
<rect x="1053.0" y="223.0" width="3" height="8.0" fill="#1e8449"/>
<line x1="1058.5" y1="211.0" x2="1058.5" y2="238.0" stroke="#e50000" stroke-width="1"/>
<rect x="1057.0" y="223.0" width="3" height="1.5" fill="#e50000"/>
<line x1="1063.5" y1="165.0" x2="1063.5" y2="226.0" stroke="#1e8449" stroke-width="1"/>
<rect x="1062.0" y="183.0" width="3" height="41.0" fill="#1e8449"/>
<line x1="1068.5" y1="179.0" x2="1068.5" y2="220.0" stroke="#e50000" stroke-width="1"/>
<rect x="1067.0" y="183.0" width="3" height="31.0" fill="#e50000"/>
<line x1="1073.5" y1="209.0" x2="1073.5" y2="223.0" stroke="#1e8449" stroke-width="1"/>
<rect x="1072.0" y="211.7" width="3" height="1.3" fill="#1e8449"/>
<line x1="1078.5" y1="209.0" x2="1078.5" y2="231.0" stroke="#e50000" stroke-width="1"/>
<rect x="1077.0" y="211.7" width="3" height="17.3" fill="#e50000"/>
<line x1="1083.5" y1="217.0" x2="1083.5" y2="242.0" stroke="#1e8449" stroke-width="1"/>
<rect x="1082.0" y="227.0" width="3" height="1.5" fill="#1e8449"/>
<line x1="1087.5" y1="221.0" x2="1087.5" y2="250.0" stroke="#e50000" stroke-width="1"/>
<rect x="1086.0" y="227.0" width="3" height="11.0" fill="#e50000"/>
<line x1="1092.5" y1="212.0" x2="1092.5" y2="250.0" stroke="#1e8449" stroke-width="1"/>
<rect x="1091.0" y="234.0" width="3" height="4.0" fill="#1e8449"/>
<line x1="1097.5" y1="215.0" x2="1097.5" y2="255.0" stroke="#e50000" stroke-width="1"/>
<rect x="1096.0" y="233.0" width="3" height="9.0" fill="#e50000"/>
<line x1="1102.5" y1="189.0" x2="1102.5" y2="273.0" stroke="#1e8449" stroke-width="1"/>
<rect x="1101.0" y="209.0" width="3" height="33.0" fill="#1e8449"/>
<line x1="1107.5" y1="201.0" x2="1107.5" y2="220.5" stroke="#e50000" stroke-width="1"/>
<rect x="1106.0" y="209.0" width="3" height="10.0" fill="#e50000"/>
<line x1="1112.5" y1="169.0" x2="1112.5" y2="223.0" stroke="#1e8449" stroke-width="1"/>
<rect x="1111.0" y="179.0" width="3" height="40.0" fill="#1e8449"/>
<line x1="1116.5" y1="148.0" x2="1116.5" y2="183.0" stroke="#1e8449" stroke-width="1"/>
<rect x="1115.0" y="160.0" width="3" height="20.0" fill="#1e8449"/>
<line x1="1121.5" y1="91.0" x2="1121.5" y2="164.0" stroke="#1e8449" stroke-width="1"/>
<rect x="1120.0" y="128.0" width="3" height="33.0" fill="#1e8449"/>
<line x1="1126.5" y1="84.0" x2="1126.5" y2="157.0" stroke="#1e8449" stroke-width="1"/>
<rect x="1125.0" y="90.0" width="3" height="39.0" fill="#1e8449"/>
<line x1="1131.5" y1="83.0" x2="1131.5" y2="121.0" stroke="#e50000" stroke-width="1"/>
<rect x="1130.0" y="90.0" width="3" height="27.0" fill="#e50000"/>
<line x1="1136.5" y1="114.0" x2="1136.5" y2="125.0" stroke="#e50000" stroke-width="1"/>
<rect x="1135.0" y="115.5" width="3" height="1.5" fill="#e50000"/>
<line x1="1141.5" y1="115.0" x2="1141.5" y2="155.0" stroke="#e50000" stroke-width="1"/>
<rect x="1140.0" y="116.0" width="3" height="37.0" fill="#e50000"/>
<line x1="1145.5" y1="137.0" x2="1145.5" y2="163.0" stroke="#1e8449" stroke-width="1"/>
<rect x="1144.0" y="151.0" width="3" height="1.6" fill="#1e8449"/>
<line x1="1150.5" y1="147.0" x2="1150.5" y2="169.0" stroke="#e50000" stroke-width="1"/>
<rect x="1149.0" y="151.0" width="3" height="15.0" fill="#e50000"/>
<line x1="1155.5" y1="87.0" x2="1155.5" y2="169.0" stroke="#1e8449" stroke-width="1"/>
<rect x="1154.0" y="94.0" width="3" height="72.0" fill="#1e8449"/>
<line x1="1160.5" y1="68.0" x2="1160.5" y2="118.0" stroke="#e50000" stroke-width="1"/>
<rect x="1159.0" y="94.0" width="3" height="19.0" fill="#e50000"/>
<line x1="1165.5" y1="101.0" x2="1165.5" y2="137.0" stroke="#e50000" stroke-width="1"/>
<rect x="1164.0" y="112.0" width="3" height="8.5" fill="#e50000"/>
<line x1="1170.5" y1="118.0" x2="1170.5" y2="202.0" stroke="#e50000" stroke-width="1"/>
<rect x="1169.0" y="120.0" width="3" height="71.7" fill="#e50000"/>
<line x1="1175.5" y1="166.0" x2="1175.5" y2="206.0" stroke="#e50000" stroke-width="1"/>
<rect x="1174.0" y="190.0" width="3" height="12.5" fill="#e50000"/>
<line x1="1179.5" y1="181.0" x2="1179.5" y2="204.5" stroke="#1e8449" stroke-width="1"/>
<rect x="1178.0" y="194.0" width="3" height="8.0" fill="#1e8449"/>
<line x1="1184.5" y1="181.0" x2="1184.5" y2="213.0" stroke="#e50000" stroke-width="1"/>
<rect x="1183.0" y="194.0" width="3" height="15.0" fill="#e50000"/>
<line x1="1189.5" y1="186.0" x2="1189.5" y2="220.0" stroke="#1e8449" stroke-width="1"/>
<rect x="1188.0" y="207.0" width="3" height="1.5" fill="#1e8449"/>
<line x1="1194.5" y1="189.0" x2="1194.5" y2="209.0" stroke="#1e8449" stroke-width="1"/>
<rect x="1193.0" y="193.0" width="3" height="15.0" fill="#1e8449"/>
<line x1="1199.5" y1="192.0" x2="1199.5" y2="205.0" stroke="#e50000" stroke-width="1"/>
<rect x="1198.0" y="193.0" width="3" height="11.0" fill="#e50000"/>
<line x1="1204.5" y1="188.0" x2="1204.5" y2="205.0" stroke="#1e8449" stroke-width="1"/>
<rect x="1203.0" y="190.0" width="3" height="14.5" fill="#1e8449"/>
<line x1="1208.5" y1="182.0" x2="1208.5" y2="221.0" stroke="#e50000" stroke-width="1"/>
<rect x="1207.0" y="190.0" width="3" height="28.0" fill="#e50000"/>
<line x1="1213.5" y1="199.0" x2="1213.5" y2="244.0" stroke="#e50000" stroke-width="1"/>
<rect x="1212.0" y="217.0" width="3" height="20.0" fill="#e50000"/>
<line x1="1218.5" y1="203.0" x2="1218.5" y2="260.0" stroke="#1e8449" stroke-width="1"/>
<rect x="1217.0" y="213.0" width="3" height="24.0" fill="#1e8449"/>
<line x1="1223.5" y1="201.0" x2="1223.5" y2="253.0" stroke="#e50000" stroke-width="1"/>
<rect x="1222.0" y="213.0" width="3" height="5.0" fill="#e50000"/>
<line x1="1228.5" y1="203.0" x2="1228.5" y2="230.0" stroke="#1e8449" stroke-width="1"/>
<rect x="1227.0" y="207.0" width="3" height="11.0" fill="#1e8449"/>
<line x1="1233.5" y1="201.0" x2="1233.5" y2="214.0" stroke="#1e8449" stroke-width="1"/>
<rect x="1232.0" y="206.0" width="3" height="2.0" fill="#1e8449"/>
<line x1="1237.5" y1="203.0" x2="1237.5" y2="226.0" stroke="#e50000" stroke-width="1"/>
<rect x="1236.0" y="206.5" width="3" height="1.5" fill="#e50000"/>
<line x1="1242.5" y1="200.0" x2="1242.5" y2="249.5" stroke="#e50000" stroke-width="1"/>
<rect x="1241.0" y="202.0" width="3" height="47.0" fill="#e50000"/>
<line x1="1247.5" y1="152.0" x2="1247.5" y2="249.8" stroke="#1e8449" stroke-width="1"/>
<rect x="1246.0" y="198.0" width="3" height="51.0" fill="#1e8449"/>
<line x1="1252.5" y1="194.0" x2="1252.5" y2="226.0" stroke="#e50000" stroke-width="1"/>
<rect x="1251.0" y="198.0" width="3" height="4.5" fill="#e50000"/>
<line x1="1257.5" y1="197.0" x2="1257.5" y2="257.0" stroke="#e50000" stroke-width="1"/>
<rect x="1256.0" y="202.0" width="3" height="41.0" fill="#e50000"/>
<line x1="1262.5" y1="235.0" x2="1262.5" y2="267.0" stroke="#e50000" stroke-width="1"/>
<rect x="1261.0" y="242.0" width="3" height="16.0" fill="#e50000"/>
<line x1="1266.5" y1="221.0" x2="1266.5" y2="260.0" stroke="#1e8449" stroke-width="1"/>
<rect x="1265.0" y="233.0" width="3" height="25.0" fill="#1e8449"/>
<line x1="1271.5" y1="229.0" x2="1271.5" y2="282.0" stroke="#e50000" stroke-width="1"/>
<rect x="1270.0" y="233.0" width="3" height="37.0" fill="#e50000"/>
<line x1="1276.5" y1="237.0" x2="1276.5" y2="288.0" stroke="#1e8449" stroke-width="1"/>
<rect x="1275.0" y="243.0" width="3" height="27.0" fill="#1e8449"/>
<line x1="1281.5" y1="194.0" x2="1281.5" y2="287.0" stroke="#e50000" stroke-width="1"/>
<rect x="1280.0" y="242.0" width="3" height="27.0" fill="#e50000"/>
<line x1="1286.5" y1="261.0" x2="1286.5" y2="285.0" stroke="#e50000" stroke-width="1"/>
<rect x="1285.0" y="268.0" width="3" height="4.0" fill="#e50000"/>
<line x1="1291.5" y1="283.0" x2="1291.5" y2="449.0" stroke="#e50000" stroke-width="1"/>
<rect x="1290.0" y="284.0" width="3" height="148.0" fill="#e50000"/>
<line x1="1295.5" y1="407.0" x2="1295.5" y2="479.0" stroke="#e50000" stroke-width="1"/>
<rect x="1294.0" y="432.0" width="3" height="34.0" fill="#e50000"/>
<line x1="1300.5" y1="427.0" x2="1300.5" y2="467.0" stroke="#1e8449" stroke-width="1"/>
<rect x="1299.0" y="461.0" width="3" height="5.0" fill="#1e8449"/>
<line x1="1305.5" y1="421.0" x2="1305.5" y2="476.0" stroke="#1e8449" stroke-width="1"/>
<rect x="1304.0" y="426.0" width="3" height="35.0" fill="#1e8449"/>
<line x1="1310.5" y1="320.0" x2="1310.5" y2="437.0" stroke="#1e8449" stroke-width="1"/>
<rect x="1309.0" y="344.0" width="3" height="83.0" fill="#1e8449"/>
<line x1="1315.5" y1="338.0" x2="1315.5" y2="403.0" stroke="#e50000" stroke-width="1"/>
<rect x="1314.0" y="344.0" width="3" height="42.0" fill="#e50000"/>
<line x1="1320.5" y1="299.0" x2="1320.5" y2="387.0" stroke="#1e8449" stroke-width="1"/>
<rect x="1319.0" y="329.0" width="3" height="57.5" fill="#1e8449"/>
<line x1="1325.5" y1="326.0" x2="1325.5" y2="353.7" stroke="#e50000" stroke-width="1"/>
<rect x="1324.0" y="328.0" width="3" height="19.0" fill="#e50000"/>
<line x1="1329.5" y1="343.0" x2="1329.5" y2="401.0" stroke="#e50000" stroke-width="1"/>
<rect x="1328.0" y="346.0" width="3" height="4.5" fill="#e50000"/>
<line x1="1334.5" y1="302.0" x2="1334.5" y2="353.7" stroke="#1e8449" stroke-width="1"/>
<rect x="1333.0" y="337.0" width="3" height="14.7" fill="#1e8449"/>
<line x1="1339.5" y1="256.0" x2="1339.5" y2="339.0" stroke="#1e8449" stroke-width="1"/>
<rect x="1338.0" y="262.0" width="3" height="76.0" fill="#1e8449"/>
<line x1="1344.5" y1="254.0" x2="1344.5" y2="281.0" stroke="#1e8449" stroke-width="1"/>
<rect x="1343.0" y="261.0" width="3" height="2.0" fill="#1e8449"/>
<line x1="1349.5" y1="254.0" x2="1349.5" y2="275.0" stroke="#e50000" stroke-width="1"/>
<rect x="1348.0" y="261.0" width="3" height="13.0" fill="#e50000"/>
<line x1="1354.5" y1="255.0" x2="1354.5" y2="275.0" stroke="#1e8449" stroke-width="1"/>
<rect x="1353.0" y="264.0" width="3" height="10.0" fill="#1e8449"/>
<line x1="1358.5" y1="226.0" x2="1358.5" y2="271.0" stroke="#1e8449" stroke-width="1"/>
<rect x="1357.0" y="234.0" width="3" height="31.0" fill="#1e8449"/>
<line x1="1363.5" y1="199.0" x2="1363.5" y2="251.0" stroke="#1e8449" stroke-width="1"/>
<rect x="1362.0" y="219.0" width="3" height="16.0" fill="#1e8449"/>
<line x1="1368.5" y1="184.0" x2="1368.5" y2="235.0" stroke="#1e8449" stroke-width="1"/>
<rect x="1367.0" y="209.0" width="3" height="11.0" fill="#1e8449"/>
<line x1="1373.5" y1="206.0" x2="1373.5" y2="232.0" stroke="#e50000" stroke-width="1"/>
<rect x="1372.0" y="210.0" width="3" height="20.0" fill="#e50000"/>
<line x1="1378.5" y1="228.0" x2="1378.5" y2="242.0" stroke="#e50000" stroke-width="1"/>
<rect x="1377.0" y="229.0" width="3" height="12.0" fill="#e50000"/>
<line x1="1383.5" y1="231.0" x2="1383.5" y2="250.6" stroke="#e50000" stroke-width="1"/>
<rect x="1382.0" y="240.0" width="3" height="9.0" fill="#e50000"/>
<line x1="1387.5" y1="246.0" x2="1387.5" y2="266.0" stroke="#e50000" stroke-width="1"/>
<rect x="1386.0" y="248.0" width="3" height="16.0" fill="#e50000"/>
<line x1="1392.5" y1="261.0" x2="1392.5" y2="294.0" stroke="#e50000" stroke-width="1"/>
<rect x="1391.0" y="262.6" width="3" height="23.4" fill="#e50000"/>
<line x1="1397.5" y1="268.0" x2="1397.5" y2="298.0" stroke="#1e8449" stroke-width="1"/>
<rect x="1396.0" y="277.0" width="3" height="9.0" fill="#1e8449"/>
<line x1="1402.5" y1="242.0" x2="1402.5" y2="280.0" stroke="#1e8449" stroke-width="1"/>
<rect x="1401.0" y="257.0" width="3" height="21.0" fill="#1e8449"/>
<line x1="1407.5" y1="249.0" x2="1407.5" y2="260.0" stroke="#1e8449" stroke-width="1"/>
<rect x="1406.0" y="257.0" width="3" height="1.6" fill="#1e8449"/>
<line x1="1412.5" y1="249.0" x2="1412.5" y2="269.0" stroke="#e50000" stroke-width="1"/>
<rect x="1411.0" y="256.0" width="3" height="8.0" fill="#e50000"/>
<line x1="1416.5" y1="250.0" x2="1416.5" y2="272.0" stroke="#1e8449" stroke-width="1"/>
<rect x="1415.0" y="251.0" width="3" height="13.0" fill="#1e8449"/>
<line x1="1421.5" y1="238.0" x2="1421.5" y2="266.0" stroke="#e50000" stroke-width="1"/>
<rect x="1420.0" y="251.0" width="3" height="10.0" fill="#e50000"/>
<line x1="1426.5" y1="222.0" x2="1426.5" y2="329.7" stroke="#e50000" stroke-width="1"/>
<rect x="1425.0" y="260.0" width="3" height="36.0" fill="#e50000"/>
<line x1="1431.5" y1="288.0" x2="1431.5" y2="357.8" stroke="#e50000" stroke-width="1"/>
<rect x="1430.0" y="294.0" width="3" height="30.5" fill="#e50000"/>
<line x1="1436.5" y1="316.0" x2="1436.5" y2="337.7" stroke="#e50000" stroke-width="1"/>
<rect x="1435.0" y="324.0" width="3" height="7.0" fill="#e50000"/>
<line x1="1441.5" y1="329.0" x2="1441.5" y2="383.8" stroke="#e50000" stroke-width="1"/>
<rect x="1440.0" y="330.0" width="3" height="23.7" fill="#e50000"/>
<line x1="1445.5" y1="342.0" x2="1445.5" y2="366.6" stroke="#1e8449" stroke-width="1"/>
<rect x="1444.0" y="350.0" width="3" height="3.7" fill="#1e8449"/>
<line x1="1450.5" y1="333.0" x2="1450.5" y2="352.0" stroke="#1e8449" stroke-width="1"/>
<rect x="1449.0" y="349.0" width="3" height="2.0" fill="#1e8449"/>
<line x1="1455.5" y1="319.0" x2="1455.5" y2="355.8" stroke="#1e8449" stroke-width="1"/>
<rect x="1454.0" y="339.0" width="3" height="10.7" fill="#1e8449"/>
<line x1="1460.5" y1="331.0" x2="1460.5" y2="359.8" stroke="#e50000" stroke-width="1"/>
<rect x="1459.0" y="339.0" width="3" height="7.5" fill="#e50000"/>
<line x1="1465.5" y1="342.0" x2="1465.5" y2="358.6" stroke="#e50000" stroke-width="1"/>
<rect x="1464.0" y="345.7" width="3" height="10.9" fill="#e50000"/>
<line x1="1470.5" y1="352.0" x2="1470.5" y2="367.0" stroke="#e50000" stroke-width="1"/>
<rect x="1469.0" y="355.8" width="3" height="9.2" fill="#e50000"/>
<line x1="1474.5" y1="356.0" x2="1474.5" y2="374.8" stroke="#e50000" stroke-width="1"/>
<rect x="1473.0" y="364.0" width="3" height="3.8" fill="#e50000"/>
<line x1="1479.5" y1="352.0" x2="1479.5" y2="368.5" stroke="#1e8449" stroke-width="1"/>
<rect x="1478.0" y="361.0" width="3" height="6.8" fill="#1e8449"/>
<line x1="1484.5" y1="333.0" x2="1484.5" y2="364.6" stroke="#1e8449" stroke-width="1"/>
<rect x="1483.0" y="337.0" width="3" height="25.0" fill="#1e8449"/>
<line x1="1489.5" y1="310.0" x2="1489.5" y2="343.7" stroke="#1e8449" stroke-width="1"/>
<rect x="1488.0" y="314.0" width="3" height="23.7" fill="#1e8449"/>
<line x1="1494.5" y1="261.0" x2="1494.5" y2="315.0" stroke="#1e8449" stroke-width="1"/>
<rect x="1493.0" y="291.0" width="3" height="23.5" fill="#1e8449"/>
<line x1="1499.5" y1="279.0" x2="1499.5" y2="292.0" stroke="#1e8449" stroke-width="1"/>
<rect x="1498.0" y="285.0" width="3" height="6.6" fill="#1e8449"/>
<line x1="1504.5" y1="279.0" x2="1504.5" y2="296.6" stroke="#e50000" stroke-width="1"/>
<rect x="1503.0" y="284.0" width="3" height="2.6" fill="#e50000"/>
<line x1="1508.5" y1="264.0" x2="1508.5" y2="294.0" stroke="#1e8449" stroke-width="1"/>
<rect x="1507.0" y="269.0" width="3" height="17.6" fill="#1e8449"/>
<line x1="1513.5" y1="263.0" x2="1513.5" y2="277.5" stroke="#e50000" stroke-width="1"/>
<rect x="1512.0" y="269.0" width="3" height="8.0" fill="#e50000"/>
<polyline points="334.0,0.0 335.2,0.6 336.7,1.5 338.4,2.4 340.4,3.5 342.6,4.6 344.8,5.9 347.1,7.1 349.5,8.4 351.8,9.7 354.0,10.9 356.0,12.0 358.1,13.2 360.3,14.4 362.4,15.6 364.5,16.8 366.6,17.9 368.6,19.1 370.7,20.3 372.8,21.5 374.9,22.8 377.0,24.0 379.1,25.3 381.2,26.5 383.3,27.8 385.4,29.1 387.6,30.4 389.7,31.8 391.8,33.1 393.9,34.4 395.9,35.7 398.0,37.0 400.0,38.3 402.1,39.6 404.1,41.0 406.1,42.3 408.1,43.7 410.0,45.0 412.0,46.3 414.0,47.6 416.0,48.8 418.0,50.0 420.0,51.1 422.0,52.2 423.9,53.2 425.9,54.2 427.9,55.2 429.9,56.1 431.9,57.1 433.9,58.0 435.9,59.0 438.0,60.0 439.9,60.9 441.8,61.8 443.7,62.6 445.7,63.5 447.6,64.4 449.6,65.3 451.6,66.1 453.7,67.1 455.7,68.0 457.8,69.0 460.0,70.0 461.9,70.9 463.7,71.8 465.6,72.8 467.6,73.8 469.5,74.8 471.5,75.8 473.5,76.8 475.5,77.9 477.6,78.9 479.6,79.9 481.7,81.0 483.9,82.0 486.0,83.0 487.9,83.9 489.9,84.8 491.9,85.7 493.9,86.6 496.0,87.6 498.1,88.5 500.2,89.4 502.3,90.3 504.4,91.2 506.4,92.1 508.5,93.0 510.4,93.8 512.4,94.6 514.2,95.3 516.0,96.0 518.2,96.9 520.2,97.6 522.0,98.3 523.7,98.9 525.4,99.4 527.1,100.0 528.9,100.5 530.8,101.0 532.9,101.6 535.3,102.3 538.0,103.0 539.6,103.4 541.3,103.9 543.1,104.3 545.1,104.8 547.1,105.3 549.2,105.8 551.3,106.3 553.5,106.9 555.8,107.4 558.0,107.9 560.2,108.5 562.5,109.0 564.7,109.5 566.9,110.0 569.0,110.5 571.1,111.0 573.1,111.4 575.0,111.9 576.8,112.3 578.5,112.7 580.0,113.0 582.8,113.6 585.2,114.1 587.3,114.5 589.1,114.9 590.8,115.2 592.3,115.5 594.0,115.8 595.7,116.1 597.7,116.5 600.0,117.0 601.7,117.4 603.5,117.7 605.3,118.1 607.1,118.5 609.0,118.9 611.0,119.3 613.0,119.7 615.0,120.2 617.1,120.6 619.2,121.1 621.3,121.6 623.5,122.2 625.6,122.7 627.8,123.4 630.0,124.0 631.9,124.6 633.7,125.2 635.7,125.8 637.6,126.5 639.6,127.2 641.6,128.0 643.7,128.7 645.7,129.5 647.8,130.2 649.8,131.0 651.9,131.8 653.9,132.6 656.0,133.4 658.0,134.1 660.0,134.9 662.1,135.6 664.0,136.3 666.0,137.0 668.1,137.7 670.1,138.4 672.2,139.1 674.3,139.8 676.4,140.5 678.5,141.2 680.5,141.9 682.6,142.5 684.6,143.2 686.7,143.9 688.7,144.5 690.6,145.1 692.6,145.7 694.5,146.3 696.4,146.9 698.2,147.5 700.0,148.0 702.3,148.7 704.6,149.3 706.8,150.0 709.0,150.6 711.1,151.2 713.2,151.8 715.3,152.3 717.2,152.9 719.1,153.3 721.0,153.8 722.7,154.2 724.4,154.6 726.0,155.0 728.5,155.5 730.5,155.8 732.2,155.9 733.8,156.1 735.5,156.2 737.5,156.5 740.0,157.0 741.6,157.4 743.4,157.8 745.3,158.3 747.3,158.9 749.4,159.5 751.5,160.1 753.7,160.7 755.9,161.3 758.0,161.9 760.2,162.5 762.2,163.0 764.2,163.5 766.0,164.0 768.3,164.5 770.4,165.0 772.5,165.5 774.5,165.9 776.5,166.2 778.4,166.6 780.3,167.0 782.2,167.3 784.1,167.7 786.0,168.0 788.1,168.4 790.2,168.7 792.2,169.0 794.2,169.3 796.2,169.7 798.2,170.0 800.2,170.3 802.1,170.6 804.0,171.0 806.1,171.4 808.0,171.9 809.9,172.3 811.8,172.8 813.8,173.3 815.7,173.8 817.8,174.4 820.0,175.0 821.9,175.5 823.8,176.0 825.8,176.6 827.9,177.2 830.0,177.8 832.1,178.4 834.2,179.0 836.4,179.6 838.4,180.3 840.5,181.0 842.5,181.7 844.5,182.5 846.4,183.2 848.3,184.0 850.3,184.8 852.2,185.6 854.2,186.5 856.3,187.3 858.3,188.2 860.5,189.0 862.4,189.7 864.3,190.5 866.3,191.2 868.3,192.0 870.4,192.8 872.5,193.6 874.6,194.4 876.6,195.2 878.7,195.9 880.7,196.7 882.6,197.4 884.5,198.0 886.6,198.7 888.7,199.4 890.6,200.0 892.6,200.5 894.5,201.1 896.4,201.6 898.3,202.1 900.3,202.7 902.4,203.3 904.6,204.0 906.5,204.6 908.6,205.2 910.7,205.9 912.8,206.5 915.0,207.2 917.2,207.9 919.4,208.6 921.6,209.3 923.8,210.0 925.9,210.7 928.0,211.3 930.0,212.0 932.1,212.7 934.1,213.4 936.1,214.1 938.0,214.7 939.9,215.4 941.8,216.1 943.7,216.7 945.7,217.4 947.7,218.1 949.8,218.8 952.0,219.5 953.8,220.1 955.7,220.7 957.7,221.3 959.7,221.9 961.7,222.5 963.8,223.2 965.9,223.8 968.0,224.4 970.0,225.1 972.1,225.7 974.2,226.3 976.2,226.9 978.1,227.4 980.0,228.0 982.2,228.6 984.3,229.3 986.4,229.9 988.4,230.5 990.5,231.1 992.5,231.7 994.5,232.2 996.4,232.8 998.4,233.3 1000.3,233.8 1002.2,234.2 1004.0,234.6 1006.2,235.0 1008.3,235.3 1010.3,235.6 1012.3,235.8 1014.2,236.0 1016.2,236.2 1018.1,236.3 1020.1,236.5 1022.0,236.7 1024.0,237.0 1026.0,237.3 1028.0,237.6 1030.0,238.0 1032.0,238.4 1034.0,238.7 1036.0,239.1 1038.0,239.5 1040.0,239.9 1042.0,240.2 1044.0,240.6 1046.0,241.0 1048.1,241.3 1050.1,241.7 1052.2,242.0 1054.2,242.4 1056.3,242.7 1058.3,243.0 1060.3,243.4 1062.2,243.7 1064.0,244.0 1066.2,244.3 1068.2,244.6 1070.1,244.9 1072.0,245.2 1073.9,245.5 1075.8,245.8 1077.8,246.1 1080.0,246.6 1081.8,247.0 1083.7,247.5 1085.7,248.1 1087.7,248.7 1089.8,249.3 1091.8,249.9 1093.9,250.5 1095.9,251.0 1098.0,251.5 1100.0,252.0 1102.0,252.4 1103.8,252.8 1105.7,253.1 1107.5,253.4 1109.4,253.7 1111.3,253.9 1113.3,254.2 1115.4,254.5 1117.6,254.7 1120.0,255.0 1121.7,255.2 1123.5,255.4 1125.4,255.6 1127.3,255.8 1129.2,256.0 1131.3,256.2 1133.3,256.4 1135.4,256.6 1137.5,256.7 1139.6,256.9 1141.7,257.1 1143.8,257.3 1145.9,257.5 1148.0,257.6 1150.0,257.8 1152.0,258.0 1154.0,258.1 1156.1,258.2 1158.1,258.4 1160.1,258.5 1162.2,258.6 1164.2,258.7 1166.3,258.9 1168.3,259.0 1170.4,259.1 1172.4,259.2 1174.4,259.4 1176.5,259.5 1178.5,259.6 1180.5,259.8 1182.5,260.0 1184.5,260.1 1186.5,260.3 1188.5,260.5 1190.5,260.7 1192.5,260.9 1194.5,261.1 1196.5,261.3 1198.5,261.5 1200.5,261.7 1202.5,261.9 1204.5,262.1 1206.5,262.2 1208.5,262.4 1210.5,262.6 1212.5,262.8 1214.5,262.9 1216.5,263.1 1218.5,263.2 1220.6,263.4 1222.6,263.5 1224.6,263.7 1226.6,263.8 1228.6,263.9 1230.6,264.1 1232.6,264.3 1234.6,264.4 1236.6,264.6 1238.6,264.8 1240.6,265.0 1242.7,265.2 1244.9,265.5 1247.1,265.8 1249.3,266.0 1251.5,266.3 1253.7,266.6 1255.9,266.9 1258.1,267.2 1260.2,267.5 1262.3,267.8 1264.3,268.1 1266.3,268.4 1268.2,268.7 1270.0,269.0 1272.4,269.4 1274.6,269.8 1276.7,270.1 1278.7,270.5 1280.6,270.9 1282.5,271.3 1284.3,271.7 1286.2,272.1 1288.0,272.5 1290.0,273.0 1292.0,273.5 1294.0,274.1 1296.0,274.7 1298.0,275.3 1300.0,275.9 1302.0,276.6 1304.0,277.2 1306.0,277.8 1308.0,278.4 1310.0,279.0 1312.0,279.6 1314.2,280.1 1316.3,280.7 1318.5,281.3 1320.6,281.8 1322.7,282.3 1324.7,282.8 1326.6,283.3 1328.4,283.7 1330.0,284.0 1332.5,284.5 1334.2,284.8 1335.8,284.9 1337.5,285.0 1340.0,285.0 1341.6,285.0 1343.4,285.0 1345.3,285.0 1347.3,285.0 1349.4,284.9 1351.5,284.9 1353.7,284.8 1355.8,284.7 1358.0,284.7 1360.0,284.6 1362.0,284.5 1364.0,284.4 1366.0,284.4 1368.0,284.3 1370.0,284.2 1372.0,284.1 1374.0,284.0 1376.0,283.9 1378.0,283.8 1380.0,283.8 1382.0,283.8 1384.0,283.8 1386.0,283.8 1388.0,283.8 1390.0,283.8 1392.0,283.8 1394.0,283.8 1396.0,283.9 1398.0,283.9 1400.0,284.0 1402.0,284.1 1404.0,284.1 1406.0,284.2 1408.0,284.3 1410.0,284.4 1412.0,284.5 1414.0,284.6 1416.0,284.7 1418.0,284.9 1420.0,285.0 1422.0,285.2 1424.0,285.3 1426.0,285.5 1428.0,285.7 1430.0,285.9 1432.0,286.2 1434.0,286.4 1436.0,286.6 1438.0,286.8 1440.0,287.0 1442.0,287.2 1444.0,287.4 1446.0,287.6 1448.0,287.8 1450.0,288.0 1452.0,288.2 1454.0,288.4 1456.0,288.6 1458.0,288.8 1460.0,289.0 1462.0,289.2 1464.0,289.4 1466.0,289.6 1468.0,289.8 1470.0,290.0 1472.0,290.2 1474.0,290.4 1476.0,290.6 1478.0,290.8 1480.0,291.0 1482.1,291.2 1484.2,291.4 1486.3,291.6 1488.5,291.8 1490.7,292.1 1492.8,292.3 1494.9,292.5 1496.9,292.7 1498.8,292.8 1500.5,293.0 1503.3,293.2 1505.9,293.4 1508.3,293.6 1510.4,293.8 1512.2,293.9 1513.5,294.0" fill="none" stroke="#2962ff" stroke-width="2" stroke-linejoin="round" stroke-linecap="round" />
<polyline points="0.0,37.0 1.2,37.8 3.0,38.9 5.2,40.4 8.0,42.0 9.6,42.9 11.4,44.0 13.4,45.1 15.5,46.3 17.6,47.5 19.8,48.7 21.9,49.9 24.0,51.0 26.0,52.0 27.9,53.0 29.8,54.0 31.8,55.0 33.7,56.0 35.7,57.0 37.8,58.0 40.0,59.0 41.8,59.9 43.7,60.8 45.7,61.8 47.7,62.7 49.8,63.7 51.8,64.6 53.9,65.6 55.9,66.4 58.0,67.3 60.0,68.0 62.0,68.7 64.1,69.3 66.1,69.9 68.2,70.4 70.2,70.9 72.3,71.4 74.3,71.8 76.3,72.2 78.2,72.6 80.0,73.0 82.2,73.5 84.3,73.9 86.3,74.3 88.2,74.7 90.2,75.0 92.1,75.2 94.0,75.4 96.0,75.6 98.0,75.7 100.0,75.7 102.0,75.6 104.0,75.5 106.0,75.4 108.0,75.3 110.0,75.1 112.0,75.0 114.0,74.9 115.9,74.7 117.8,74.5 119.8,74.3 121.7,74.1 123.7,74.0 125.8,73.8 128.0,73.6 129.8,73.5 131.7,73.3 133.6,73.2 135.5,73.1 137.5,73.0 139.5,72.8 141.6,72.7 143.7,72.6 145.8,72.5 148.0,72.4 149.9,72.3 151.9,72.2 153.9,72.1 156.0,72.0 158.1,71.9 160.2,71.8 162.4,71.8 164.4,71.7 166.5,71.6 168.4,71.6 170.3,71.6 172.0,71.6 174.4,71.7 176.5,71.7 178.4,71.8 180.2,72.0 182.1,72.2 183.9,72.4 185.9,72.7 188.0,73.0 189.8,73.3 191.7,73.6 193.7,74.0 195.7,74.4 197.8,74.8 199.8,75.3 201.9,75.7 203.9,76.2 206.0,76.6 208.0,77.0 210.0,77.4 212.0,77.8 214.0,78.2 216.0,78.6 218.0,79.0 220.0,79.4 222.0,79.8 224.0,80.2 226.0,80.6 228.0,81.0 230.0,81.4 232.0,81.8 234.1,82.2 236.1,82.6 238.1,83.1 240.1,83.5 242.1,83.9 244.1,84.3 246.1,84.6 248.0,85.0 250.1,85.4 252.2,85.8 254.3,86.2 256.4,86.6 258.4,86.9 260.4,87.3 262.3,87.6 264.2,87.8 266.0,88.0 268.2,88.2 270.3,88.3 272.3,88.3 274.2,88.3 276.1,88.2 278.0,88.1 280.0,88.0 282.0,87.9 284.0,87.7 286.0,87.5 288.0,87.3 290.0,87.0 292.0,86.7 294.0,86.4 296.0,86.1 298.1,85.7 300.1,85.2 302.1,84.8 304.1,84.3 306.1,83.9 308.0,83.6 310.0,83.3 311.9,83.0 313.6,82.7 315.5,82.4 317.6,82.2 320.0,82.0 321.7,81.9 323.5,81.8 325.3,81.6 327.3,81.5 329.4,81.4 331.5,81.3 333.6,81.2 335.7,81.2 337.9,81.1 340.0,81.0 341.9,80.9 343.9,80.8 345.8,80.7 347.8,80.6 349.8,80.5 351.8,80.4 353.8,80.3 355.8,80.3 357.9,80.3 359.9,80.4 362.0,80.6 363.9,80.8 366.0,81.1 368.0,81.5 370.1,81.9 372.2,82.3 374.2,82.8 376.3,83.3 378.4,83.8 380.4,84.3 382.3,84.9 384.2,85.4 386.0,86.0 388.3,86.8 390.4,87.6 392.4,88.4 394.3,89.3 396.2,90.2 398.1,91.2 400.0,92.1 401.9,93.1 404.0,94.0 405.8,94.8 407.6,95.7 409.3,96.5 411.1,97.3 412.9,98.2 414.8,99.1 416.8,100.0 418.9,100.9 421.3,101.9 424.0,103.0 425.6,103.6 427.4,104.3 429.2,105.0 431.1,105.7 433.1,106.4 435.2,107.1 437.3,107.9 439.5,108.6 441.6,109.4 443.8,110.1 446.0,110.9 448.1,111.7 450.3,112.4 452.4,113.2 454.4,113.9 456.4,114.6 458.2,115.3 460.0,116.0 462.3,116.9 464.5,117.8 466.5,118.7 468.5,119.6 470.3,120.5 472.2,121.4 474.0,122.2 475.8,123.1 477.7,123.9 479.6,124.7 481.6,125.5 483.8,126.3 486.0,127.0 487.8,127.6 489.7,128.1 491.6,128.6 493.6,129.1 495.6,129.6 497.7,130.1 499.8,130.6 501.9,131.1 504.0,131.5 506.1,132.0 508.2,132.4 510.3,132.9 512.4,133.3 514.5,133.7 516.5,134.2 518.5,134.6 520.4,135.0 522.5,135.5 524.7,135.9 526.8,136.3 528.8,136.7 530.9,137.1 532.9,137.5 535.0,137.9 537.0,138.2 539.0,138.6 540.9,139.0 542.9,139.4 544.8,139.8 546.7,140.2 548.6,140.6 550.5,141.0 552.6,141.5 554.7,142.0 556.7,142.4 558.7,142.9 560.7,143.3 562.7,143.8 564.6,144.3 566.5,144.8 568.5,145.4 570.4,146.0 572.4,146.6 574.4,147.3 576.5,148.0 578.5,148.7 580.4,149.5 582.5,150.4 584.5,151.3 586.5,152.2 588.6,153.2 590.7,154.1 592.7,155.1 594.8,156.1 596.8,157.1 598.8,158.1 600.8,159.1 602.7,160.1 604.6,161.0 606.8,162.1 609.0,163.2 611.2,164.4 613.4,165.6 615.5,166.7 617.6,167.9 619.7,169.0 621.7,170.1 623.6,171.2 625.4,172.2 627.1,173.1 628.6,174.0 631.7,175.8 634.0,177.1 636.0,178.3 637.9,179.6 640.0,181.0 641.9,182.4 643.9,183.8 645.8,185.2 647.8,186.8 649.9,188.4 652.0,190.0 653.9,191.5 655.7,193.0 657.7,194.6 659.6,196.3 661.7,197.9 663.8,199.5 666.0,201.0 667.8,202.2 669.8,203.3 671.8,204.5 673.8,205.7 675.9,206.8 678.0,207.9 680.1,209.0 682.1,210.0 684.0,211.0 686.1,212.1 688.2,213.1 690.2,214.2 692.2,215.2 694.2,216.1 696.2,217.0 698.1,217.8 700.0,218.5 702.1,219.2 704.1,219.8 706.0,220.2 708.0,220.6 709.9,221.0 711.9,221.5 714.0,222.0 715.9,222.5 717.8,223.1 719.8,223.6 721.8,224.2 723.8,224.8 725.8,225.4 727.9,225.9 730.0,226.5 731.9,227.0 734.0,227.5 736.1,228.0 738.2,228.5 740.3,229.0 742.4,229.5 744.4,230.0 746.3,230.5 748.0,231.0 750.3,231.7 752.1,232.4 753.9,233.1 755.6,233.9 757.6,234.8 760.0,236.0 761.7,236.9 763.5,237.8 765.4,238.9 767.4,240.0 769.5,241.2 771.6,242.4 773.7,243.6 775.9,244.8 778.0,245.9 780.0,247.0 782.0,248.0 784.0,249.1 786.0,250.1 788.0,251.1 790.0,252.1 792.0,253.0 794.0,254.0 796.0,255.0 798.0,256.0 800.0,257.0 802.0,258.0 804.1,259.0 806.1,260.0 808.2,261.0 810.2,262.0 812.3,263.0 814.3,264.0 816.3,265.0 818.2,266.0 820.0,267.0 822.2,268.2 824.3,269.5 826.4,270.8 828.4,272.0 830.3,273.2 832.2,274.5 834.1,275.8 836.0,277.0 838.1,278.5 840.1,279.9 842.0,281.4 843.9,282.9 845.9,284.4 847.9,285.7 850.0,287.0 851.9,288.0 854.0,289.0 856.0,289.9 858.1,290.8 860.2,291.6 862.4,292.4 864.4,293.2 866.5,294.0 868.5,294.8 870.5,295.6 872.4,296.4 874.4,297.1 876.4,297.8 878.4,298.5 880.4,299.2 882.5,299.8 884.4,300.3 886.4,300.7 888.4,301.2 890.5,301.5 892.5,301.9 894.6,302.3 896.6,302.7 898.6,303.1 900.5,303.5 902.6,304.0 904.6,304.5 906.6,305.1 908.5,305.6 910.4,306.2 912.4,306.8 914.4,307.4 916.5,308.0 918.4,308.6 920.4,309.2 922.4,309.9 924.4,310.6 926.4,311.3 928.5,312.0 930.5,312.7 932.6,313.3 934.6,314.0 936.6,314.6 938.5,315.2 940.4,315.8 942.3,316.4 944.2,317.0 946.2,317.6 948.2,318.2 950.4,318.8 952.6,319.5 954.6,320.1 956.6,320.6 958.8,321.2 961.0,321.9 963.3,322.5 965.6,323.1 967.8,323.7 970.0,324.3 972.1,324.9 974.1,325.5 976.0,326.0 978.4,326.7 980.6,327.4 982.7,328.1 984.7,328.7 986.6,329.4 988.5,329.9 990.2,330.5 992.0,331.0 994.2,331.6 996.1,332.2 998.0,332.7 999.9,333.1 1001.8,333.4 1004.0,333.7 1005.8,333.8 1007.8,333.8 1009.8,333.8 1011.9,333.7 1014.0,333.7 1016.0,333.6 1018.1,333.6 1020.0,333.7 1022.1,333.9 1024.0,334.2 1025.9,334.5 1027.8,334.8 1029.8,335.1 1031.8,335.4 1034.0,335.7 1035.9,335.9 1037.8,336.0 1039.9,336.1 1042.1,336.3 1044.2,336.4 1046.3,336.5 1048.3,336.5 1050.2,336.6 1052.0,336.7 1054.3,336.8 1056.3,336.9 1058.1,337.0 1059.9,337.0 1061.8,337.0 1064.0,337.0 1065.8,336.9 1067.7,336.8 1069.7,336.7 1071.8,336.5 1073.8,336.4 1075.9,336.2 1078.0,336.1 1080.0,336.0 1082.0,335.9 1084.0,335.9 1086.1,335.9 1088.1,336.0 1090.1,336.0 1092.1,335.9 1094.1,335.8 1096.0,335.7 1098.1,335.5 1100.2,335.1 1102.2,334.8 1104.2,334.4 1106.2,333.9 1108.1,333.5 1110.0,333.0 1112.1,332.4 1114.2,331.8 1116.2,331.2 1118.2,330.5 1120.1,329.8 1122.0,329.0 1124.1,327.9 1126.0,326.8 1127.8,325.6 1129.8,324.3 1132.0,323.0 1133.8,322.1 1135.7,321.1 1137.7,320.1 1139.8,319.1 1141.9,318.0 1144.0,317.0 1146.0,316.0 1148.0,315.0 1150.1,313.9 1152.1,312.9 1154.1,311.9 1156.1,310.9 1158.1,309.9 1160.0,309.0 1162.1,308.0 1164.2,307.1 1166.2,306.2 1168.2,305.4 1170.1,304.7 1172.0,304.0 1174.0,303.2 1175.8,302.6 1177.5,302.0 1179.5,301.5 1182.0,301.0 1183.6,300.8 1185.5,300.6 1187.4,300.4 1189.4,300.2 1191.5,300.0 1193.7,299.9 1195.8,299.8 1197.9,299.6 1200.0,299.5 1202.1,299.4 1204.2,299.3 1206.4,299.2 1208.5,299.2 1210.7,299.1 1212.8,299.0 1214.8,299.0 1216.7,298.8 1218.5,298.7 1220.9,298.4 1223.0,298.1 1225.0,297.7 1226.8,297.3 1228.7,296.9 1230.6,296.5 1232.6,296.1 1234.6,295.7 1236.6,295.3 1238.6,294.9 1240.6,294.5 1242.6,294.0 1244.6,293.5 1246.6,292.9 1248.6,292.3 1250.6,291.7 1252.6,291.1 1254.6,290.6 1256.9,290.0 1259.3,289.5 1261.6,289.0 1263.8,288.5 1266.0,288.0 1268.1,287.6 1270.1,287.1 1272.1,286.7 1274.0,286.4 1276.0,286.0 1277.9,285.6 1279.6,285.2 1281.4,284.9 1283.5,284.7 1286.0,284.6 1287.7,284.7 1289.5,284.9 1291.6,285.1 1293.7,285.5 1295.8,285.8 1298.0,286.1 1300.1,286.3 1302.1,286.5 1304.0,286.6 1306.2,286.6 1308.2,286.4 1310.2,286.2 1312.1,286.0 1314.0,285.7 1315.9,285.3 1318.0,285.0 1319.9,284.7 1322.0,284.4 1324.0,284.1 1326.1,283.7 1328.2,283.3 1330.2,282.9 1332.2,282.5 1334.0,282.0 1336.2,281.3 1338.3,280.6 1340.2,279.8 1342.1,278.9 1344.0,278.0 1346.0,277.0 1348.0,275.9 1350.0,274.7 1352.0,273.4 1354.0,272.2 1356.0,271.0 1358.0,270.0 1360.0,269.1 1361.9,268.4 1363.8,267.7 1365.7,267.1 1367.8,266.4 1370.0,265.8 1371.8,265.3 1373.7,264.8 1375.7,264.3 1377.8,263.8 1379.8,263.3 1381.9,262.8 1384.0,262.4 1386.0,262.0 1388.0,261.7 1390.0,261.4 1392.1,261.1 1394.1,260.9 1396.1,260.7 1398.1,260.4 1400.1,260.1 1402.0,259.8 1404.1,259.3 1406.3,258.8 1408.3,258.2 1410.4,257.6 1412.3,257.0 1414.2,256.5 1416.0,256.0 1418.2,255.5 1420.0,255.0 1421.8,254.6 1423.7,254.2 1426.0,253.8 1427.7,253.6 1429.6,253.3 1431.6,253.1 1433.6,252.8 1435.7,252.6 1437.9,252.4 1440.0,252.2 1442.0,252.0 1444.0,251.8 1446.0,251.7 1448.0,251.5 1450.0,251.4 1452.0,251.3 1454.0,251.2 1456.0,251.1 1458.0,251.0 1460.0,250.9 1462.0,250.9 1464.1,250.9 1466.1,250.8 1468.1,250.8 1470.1,250.8 1472.1,250.8 1474.0,250.8 1476.2,250.8 1478.4,250.8 1480.7,250.7 1482.8,250.7 1484.9,250.7 1486.8,250.7 1488.5,250.8 1491.0,251.0 1492.9,251.2 1494.7,251.5 1496.5,251.8 1498.5,252.1 1500.4,252.4 1502.4,252.8 1504.5,253.0 1506.9,253.2 1509.5,253.3 1511.9,253.3 1513.5,253.4" fill="none" stroke="#4caf50" stroke-width="2" stroke-linejoin="round" stroke-linecap="round" />
<polyline points="0.0,93.0 1.3,93.7 3.0,94.7 5.1,95.9 7.5,97.0 10.0,98.0 11.7,98.5 13.6,98.9 15.6,99.4 17.8,99.8 19.9,100.1 22.0,100.4 24.1,100.7 26.0,101.0 28.1,101.3 30.0,101.5 31.8,101.8 33.7,102.0 35.6,102.1 37.7,102.1 40.0,102.0 41.8,101.9 43.6,101.7 45.6,101.5 47.6,101.2 49.6,100.9 51.7,100.6 53.8,100.2 55.9,99.9 58.0,99.4 60.0,99.0 62.0,98.5 64.1,98.0 66.2,97.5 68.3,97.0 70.4,96.4 72.4,95.8 74.4,95.1 76.4,94.4 78.2,93.7 80.0,93.0 82.3,91.9 84.4,90.6 86.4,89.4 88.3,88.0 90.2,86.7 92.1,85.3 94.0,84.0 96.0,82.7 98.1,81.4 100.1,80.1 102.1,78.8 104.1,77.5 106.1,76.2 108.0,75.0 110.1,73.6 112.1,72.1 114.1,70.8 116.1,69.4 118.0,68.1 120.0,67.0 122.0,66.0 124.0,65.0 126.0,64.2 128.0,63.4 130.0,62.7 132.0,62.0 134.0,61.4 136.0,60.8 138.0,60.3 140.0,59.9 142.0,59.4 144.0,59.0 146.0,58.5 147.9,58.1 149.8,57.7 151.7,57.2 153.8,56.9 156.0,56.6 157.8,56.4 159.8,56.3 161.9,56.2 164.0,56.1 166.1,56.0 168.2,56.0 170.2,56.0 172.0,56.0 174.2,56.0 176.1,56.1 178.0,56.2 179.9,56.4 181.8,56.6 184.0,57.0 185.8,57.4 187.7,57.8 189.7,58.3 191.8,58.8 193.8,59.4 195.9,59.9 198.0,60.5 200.0,61.0 202.0,61.5 204.0,62.0 206.0,62.5 208.0,63.0 210.0,63.5 212.0,64.0 214.0,64.5 216.0,65.0 218.0,65.5 220.0,66.0 222.0,66.5 224.0,67.1 226.0,67.6 228.0,68.1 230.0,68.5 232.0,69.0 234.0,69.4 235.9,69.8 237.8,70.2 239.8,70.6 241.7,70.9 243.7,71.3 245.8,71.6 248.0,72.0 249.8,72.3 251.7,72.6 253.7,73.0 255.7,73.3 257.8,73.6 259.8,73.9 261.9,74.2 263.9,74.5 266.0,74.8 268.0,75.0 270.0,75.2 272.0,75.3 274.0,75.4 276.0,75.5 278.0,75.6 280.0,75.7 282.0,75.8 284.0,75.8 286.0,75.9 288.0,76.0 290.0,76.1 292.1,76.2 294.3,76.3 296.4,76.4 298.5,76.6 300.6,76.7 302.6,76.8 304.5,76.9 306.3,76.9 308.0,77.0 310.4,77.0 312.4,76.9 314.2,76.8 316.0,76.7 317.9,76.8 320.0,77.0 321.8,77.3 323.7,77.6 325.7,78.1 327.8,78.6 329.8,79.1 331.9,79.7 334.0,80.3 336.0,81.0 338.0,81.7 340.0,82.5 342.0,83.4 344.0,84.2 346.0,85.2 348.0,86.1 350.0,87.1 352.0,88.0 354.0,88.9 356.0,89.7 357.9,90.5 359.9,91.4 361.9,92.3 363.9,93.3 365.9,94.6 368.0,96.0 369.9,97.5 371.9,99.2 373.9,101.0 375.9,102.9 377.9,105.0 379.9,107.0 382.0,109.0 384.0,111.1 386.0,113.0 388.0,114.9 390.0,116.8 391.9,118.6 393.9,120.5 395.9,122.4 397.9,124.3 399.9,126.2 401.9,128.1 404.0,130.0 405.9,131.8 407.8,133.6 409.7,135.5 411.7,137.5 413.6,139.4 415.6,141.3 417.6,143.1 419.7,144.8 421.8,146.5 424.0,148.0 425.9,149.2 427.8,150.2 429.8,151.3 431.8,152.2 433.9,153.1 436.0,154.0 438.1,154.8 440.1,155.7 442.2,156.5 444.2,157.3 446.1,158.1 448.0,159.0 450.2,160.0 452.3,161.1 454.4,162.1 456.5,163.1 458.5,164.1 460.5,165.0 462.5,166.0 464.4,167.0 466.4,168.0 468.3,169.0 470.4,170.1 472.5,171.3 474.6,172.4 476.7,173.6 478.7,174.8 480.7,175.9 482.6,177.0 484.5,178.0 486.3,179.0 488.8,180.3 491.0,181.5 493.0,182.6 495.1,183.7 497.4,184.8 500.0,186.0 501.7,186.8 503.6,187.5 505.5,188.3 507.5,189.1 509.6,189.8 511.7,190.6 513.8,191.5 515.9,192.3 518.0,193.1 520.0,194.0 522.0,194.9 524.0,195.8 526.0,196.8 528.0,197.8 530.0,198.8 532.0,199.8 534.0,200.8 536.0,201.7 538.0,202.7 540.0,203.6 542.0,204.5 544.0,205.4 546.1,206.3 548.1,207.2 550.1,208.0 552.1,208.9 554.1,209.7 556.1,210.5 558.1,211.3 560.0,212.0 562.1,212.8 564.2,213.5 566.4,214.1 568.4,214.8 570.5,215.4 572.5,216.0 574.4,216.6 576.3,217.3 578.0,218.0 580.4,219.1 582.5,220.3 584.5,221.5 586.4,222.7 588.4,223.8 590.5,225.0 592.4,226.0 594.3,227.1 596.3,228.1 598.3,229.2 600.3,230.1 602.4,231.0 604.5,231.7 606.4,232.2 608.4,232.5 610.4,232.8 612.4,233.0 614.5,233.1 616.5,233.3 618.6,233.5 620.6,233.7 622.6,234.0 624.7,234.2 626.7,234.4 628.8,234.7 630.8,234.9 632.8,235.2 634.7,235.6 636.6,236.0 639.0,236.6 641.3,237.4 643.6,238.1 645.7,239.0 647.9,240.0 650.0,241.0 652.1,242.1 654.0,243.4 656.0,244.7 657.9,246.1 659.9,247.5 662.0,249.0 663.9,250.3 665.9,251.8 667.9,253.3 669.9,254.7 671.9,256.2 674.0,257.7 676.0,259.0 678.0,260.3 680.1,261.5 682.2,262.8 684.3,264.0 686.3,265.1 688.2,266.1 690.0,267.0 692.2,268.1 694.2,269.0 696.0,269.8 697.9,270.5 700.0,271.0 701.9,271.3 703.9,271.5 705.9,271.6 707.9,271.7 710.0,271.7 712.0,271.8 714.0,271.9 716.1,271.9 718.1,271.9 720.1,271.9 722.1,271.9 724.0,271.8 726.1,271.6 728.0,271.3 730.0,270.9 731.9,270.7 734.0,270.6 735.9,270.7 737.9,270.9 739.9,271.2 741.9,271.6 744.0,272.1 746.0,272.6 748.0,273.2 750.0,273.8 752.0,274.5 754.0,275.3 756.0,276.1 758.0,277.0 760.0,278.0 762.0,279.2 764.0,280.4 766.0,281.6 768.0,282.9 770.0,284.0 772.0,285.0 774.0,286.0 776.0,286.9 778.0,287.9 780.0,288.9 782.0,290.0 784.0,291.2 786.0,292.5 788.0,293.8 790.0,295.2 792.0,296.6 794.0,298.0 796.0,299.4 798.0,300.9 800.0,302.4 802.0,304.0 804.0,305.5 806.0,307.0 808.0,308.5 810.1,310.1 812.1,311.7 814.1,313.2 816.1,314.7 818.0,316.0 820.1,317.3 822.0,318.4 824.0,319.5 825.9,320.6 828.0,322.0 829.9,323.4 831.9,324.9 833.9,326.6 835.9,328.3 838.0,330.1 840.0,332.0 842.0,334.0 843.9,336.2 845.8,338.5 847.8,340.8 849.9,343.0 852.0,345.0 854.0,346.6 856.1,348.2 858.3,349.7 860.5,351.1 862.6,352.4 864.6,353.8 866.5,355.0 868.8,356.7 871.0,358.2 872.9,359.6 874.8,360.9 876.5,362.0 879.1,363.4 881.3,364.4 883.5,365.0 885.8,365.2 888.1,365.0 890.5,364.5 892.4,363.8 894.3,362.8 896.3,361.8 898.5,361.0 900.3,360.6 902.1,360.4 904.0,360.2 906.1,360.1 908.5,360.0 910.2,359.9 912.1,359.9 914.1,359.8 916.2,359.8 918.3,359.8 920.5,359.8 922.6,359.9 924.6,360.0 926.9,360.1 929.2,360.3 931.4,360.5 933.7,360.8 935.9,361.1 938.0,361.5 940.0,362.0 942.2,362.8 944.3,363.7 946.2,364.7 948.1,365.8 950.0,366.9 952.0,368.0 954.0,369.1 956.1,370.3 958.1,371.5 960.1,372.7 962.1,373.9 964.0,375.0 966.1,376.3 968.0,377.5 970.0,378.7 971.9,379.9 974.0,381.0 975.9,381.9 977.9,382.8 979.9,383.7 981.9,384.5 984.0,385.3 986.0,386.0 988.0,386.6 990.1,387.2 992.2,387.7 994.3,388.1 996.2,388.4 998.0,388.6 1000.2,388.6 1002.1,388.3 1004.0,387.7 1006.0,387.0 1007.9,386.2 1009.9,385.2 1011.9,384.2 1014.0,383.1 1016.0,382.0 1018.0,381.0 1019.9,380.0 1021.9,379.0 1023.9,378.0 1026.0,377.0 1027.9,376.2 1029.8,375.4 1031.8,374.7 1033.8,373.9 1035.9,373.0 1038.0,372.0 1039.9,371.0 1041.9,370.0 1044.0,368.8 1046.0,367.7 1048.1,366.4 1050.1,365.2 1052.0,364.0 1054.1,362.6 1056.1,361.1 1058.1,359.7 1060.1,358.2 1062.0,356.6 1064.0,355.0 1066.0,353.3 1068.0,351.5 1070.0,349.7 1072.0,347.8 1074.0,345.9 1076.0,344.0 1078.0,342.1 1080.0,340.1 1082.0,338.1 1084.0,336.0 1086.0,334.0 1088.0,332.0 1090.0,330.0 1092.0,328.1 1094.0,326.1 1096.0,324.1 1098.0,322.1 1100.0,320.0 1102.0,317.8 1104.0,315.5 1106.0,313.1 1108.0,310.7 1110.0,308.4 1112.0,306.0 1114.0,303.7 1115.9,301.4 1117.8,299.1 1119.7,296.8 1121.8,294.4 1124.0,292.0 1125.8,290.1 1127.9,288.0 1130.0,285.9 1132.1,283.8 1134.3,281.6 1136.3,279.6 1138.3,277.7 1140.0,276.0 1142.4,273.6 1144.4,271.6 1146.3,269.7 1148.1,267.9 1150.0,266.0 1152.0,264.0 1154.0,262.0 1156.0,259.9 1158.0,257.9 1160.0,256.0 1162.0,254.1 1164.0,252.3 1166.0,250.6 1168.0,248.8 1170.0,247.0 1172.0,245.2 1174.1,243.4 1176.2,241.5 1178.3,239.7 1180.5,238.0 1182.4,236.6 1184.4,235.2 1186.4,233.9 1188.4,232.6 1190.5,231.3 1192.5,230.0 1194.5,228.8 1196.5,227.6 1198.5,226.4 1200.5,225.3 1202.5,224.2 1204.5,223.0 1206.5,221.8 1208.5,220.7 1210.5,219.6 1212.5,218.4 1214.5,217.2 1216.5,216.0 1218.5,214.7 1220.6,213.3 1222.7,211.9 1224.7,210.5 1226.7,209.2 1228.6,208.0 1230.7,206.7 1232.8,205.6 1234.7,204.5 1236.6,203.5 1238.6,202.5 1240.6,201.5 1242.7,200.6 1244.7,199.7 1246.7,198.9 1248.6,198.4 1250.7,198.1 1252.6,198.0 1254.5,198.1 1256.6,198.2 1258.8,198.3 1261.2,198.5 1263.6,198.7 1266.0,198.7 1268.0,198.6 1270.0,198.3 1272.0,198.0 1274.1,197.8 1276.0,197.7 1278.4,197.8 1280.7,198.0 1282.9,198.4 1285.0,199.0 1287.3,200.1 1289.4,201.7 1292.0,204.0 1293.7,205.6 1295.6,207.6 1297.6,209.8 1299.7,212.0 1301.8,214.1 1304.0,216.0 1305.9,217.5 1307.8,218.8 1309.8,220.2 1311.8,221.4 1313.8,222.7 1315.9,223.8 1318.0,225.0 1319.9,226.0 1322.0,227.0 1324.0,227.9 1326.1,228.9 1328.2,229.8 1330.2,230.6 1332.2,231.3 1334.0,232.0 1336.2,232.7 1338.3,233.3 1340.2,233.7 1342.1,234.1 1344.0,234.5 1346.0,235.0 1348.0,235.6 1350.0,236.2 1352.0,236.9 1354.0,237.6 1356.0,238.3 1358.0,239.0 1360.0,239.8 1362.0,240.6 1364.0,241.4 1366.0,242.2 1368.0,243.1 1370.0,244.0 1372.0,244.9 1374.0,245.9 1376.0,246.8 1378.0,247.8 1380.0,248.8 1382.0,249.8 1384.0,250.8 1386.0,251.9 1388.0,252.9 1390.0,253.9 1392.0,255.0 1394.0,256.0 1396.0,257.0 1398.0,258.0 1400.0,259.0 1402.0,260.0 1404.0,260.9 1406.0,261.8 1408.0,262.6 1410.0,263.3 1412.0,264.0 1414.0,264.6 1416.0,265.3 1418.0,266.0 1420.0,266.8 1422.0,267.5 1424.0,268.3 1426.0,269.2 1428.0,270.0 1430.0,271.0 1432.0,272.1 1434.0,273.2 1436.0,274.4 1438.0,275.7 1440.0,276.9 1442.0,278.0 1444.0,279.0 1446.0,280.0 1448.0,281.0 1450.0,282.0 1452.0,283.0 1454.0,284.0 1456.0,285.1 1458.0,286.3 1460.0,287.4 1462.0,288.6 1464.0,289.8 1466.0,291.0 1468.0,292.2 1470.0,293.4 1472.0,294.6 1474.0,295.7 1476.0,296.9 1478.0,298.0 1480.0,299.1 1482.1,300.2 1484.1,301.3 1486.1,302.3 1488.1,303.2 1490.0,304.0 1492.2,304.8 1494.2,305.4 1496.2,305.9 1498.3,306.3 1500.5,306.7 1502.7,307.0 1505.1,307.3 1507.7,307.5 1510.0,307.7 1512.1,307.9 1513.5,308.0" fill="none" stroke="#e2b93b" stroke-width="2" stroke-linejoin="round" stroke-linecap="round" />
<polyline points="0.0,43.0 1.5,42.4 3.8,41.4 6.1,40.8 8.0,41.0 9.6,44.4 12.0,50.0 13.5,52.0 15.3,54.2 17.3,56.6 19.5,59.1 21.7,61.5 23.9,63.9 26.0,66.0 28.0,68.0 30.0,69.8 32.0,71.6 34.0,73.3 36.0,75.0 38.0,76.5 40.0,78.0 42.0,79.4 44.1,80.6 46.1,81.8 48.1,82.9 50.1,84.0 52.1,85.0 54.0,86.0 56.1,87.1 58.1,88.1 60.1,89.1 62.1,90.1 64.0,91.0 66.0,92.0 68.0,93.1 70.1,94.2 72.2,95.3 74.3,96.4 76.2,97.3 78.0,98.0 80.3,98.7 82.2,99.1 84.1,99.1 86.0,99.0 88.0,98.7 89.9,98.2 91.9,97.3 94.0,96.0 95.8,94.5 97.8,92.6 99.8,90.5 101.8,88.2 104.0,86.0 105.9,84.1 107.9,82.1 109.9,80.1 111.9,78.1 114.0,76.0 116.0,74.0 118.0,72.0 120.0,69.9 122.0,67.9 124.0,65.9 126.0,63.9 128.0,62.0 130.0,60.2 132.0,58.5 134.0,56.9 136.0,55.3 138.0,53.6 140.0,52.0 142.0,50.3 144.0,48.6 146.0,46.9 148.0,45.3 150.0,43.6 152.0,42.0 154.0,40.4 156.1,38.7 158.1,37.1 160.1,35.6 162.1,34.2 164.0,33.0 166.2,31.8 168.2,30.8 170.2,30.1 172.2,29.5 174.0,29.0 176.1,28.6 178.0,28.5 179.9,28.6 182.0,29.0 183.9,29.5 185.9,30.2 187.9,31.0 190.0,31.9 192.0,33.0 194.0,34.2 196.0,35.4 198.0,36.8 200.0,38.4 202.0,40.0 204.0,41.8 206.0,43.7 208.0,45.7 210.0,47.8 212.0,50.0 214.0,52.3 216.0,54.8 218.0,57.4 220.0,59.8 222.0,62.0 224.0,63.9 226.0,65.6 228.0,67.1 230.0,68.6 232.0,70.0 234.0,71.2 236.0,72.3 238.0,73.3 240.0,74.4 242.0,76.0 244.0,78.0 246.0,80.4 248.0,82.9 250.0,85.5 252.0,88.0 254.0,90.4 256.0,92.8 258.0,95.3 260.0,97.7 262.0,100.0 264.0,102.3 266.0,104.7 268.0,107.0 270.0,109.1 272.0,111.0 274.0,112.6 276.0,113.9 278.0,115.1 280.0,116.1 282.0,117.0 284.0,117.8 286.0,118.6 288.0,119.2 290.0,119.6 292.0,120.0 294.0,120.2 296.0,120.3 298.0,120.3 300.0,120.2 302.0,120.0 304.0,119.7 306.1,119.3 308.1,118.8 310.1,118.3 312.0,118.0 314.0,117.8 315.9,117.7 317.8,117.7 320.0,117.7 321.7,117.7 323.6,117.8 325.6,117.8 327.7,117.9 329.8,118.0 332.0,118.0 333.9,118.1 336.0,118.2 338.1,118.3 340.2,118.4 342.2,118.4 344.2,118.3 346.0,118.0 348.3,117.3 350.4,116.2 352.4,115.1 354.3,113.9 356.0,113.0 358.6,111.7 360.8,110.6 363.0,110.5 365.2,111.4 367.4,113.1 370.0,116.0 371.7,118.4 373.6,121.4 375.6,124.7 377.7,128.2 380.0,132.0 381.8,134.8 383.7,137.7 385.7,140.7 387.8,143.8 389.9,147.1 392.0,150.5 394.0,154.0 396.1,157.8 398.2,162.0 400.3,166.3 402.4,170.7 404.4,174.8 406.3,178.7 408.0,182.0 410.3,186.5 412.1,189.9 413.9,192.8 416.0,196.0 417.8,198.4 419.7,200.8 421.8,203.2 423.9,205.6 426.0,207.9 428.0,210.0 430.0,211.9 432.0,213.6 434.0,215.2 436.0,216.7 438.0,218.3 440.0,220.0 442.0,221.8 444.1,223.5 446.1,225.3 448.1,227.2 450.1,229.1 452.0,231.0 454.2,233.7 456.2,236.7 458.2,239.6 460.2,242.1 462.0,243.7 464.1,244.1 466.1,243.3 468.0,242.0 470.0,241.0 471.9,240.3 473.8,239.7 475.7,239.1 478.0,238.7 479.8,238.6 481.7,238.7 483.8,238.8 485.9,239.0 488.0,238.9 490.0,238.7 492.0,238.2 494.1,237.4 496.1,236.5 498.1,235.6 500.1,234.7 502.0,234.0 504.1,233.3 506.1,232.6 508.1,232.0 510.0,231.5 512.0,231.0 514.0,230.6 516.0,230.2 518.0,229.8 520.0,229.7 522.0,229.7 524.0,230.0 526.1,230.6 528.1,231.3 530.1,232.0 532.0,232.5 534.1,233.1 536.0,233.6 537.9,234.0 540.0,234.0 541.9,233.7 543.9,233.1 545.9,232.4 548.0,231.7 550.0,231.0 552.0,230.4 554.0,229.7 556.0,229.1 558.0,228.4 560.0,227.7 562.0,227.0 564.1,226.3 566.1,225.6 568.1,224.8 570.0,224.0 572.2,222.7 574.4,221.3 576.4,220.0 578.5,219.0 580.4,218.5 582.3,218.2 584.2,218.2 586.5,218.0 588.3,217.8 590.3,217.7 592.4,217.5 594.5,217.4 596.6,217.2 598.5,217.0 600.7,216.7 602.7,216.2 604.7,215.8 606.7,215.6 608.5,215.7 610.6,216.3 612.5,217.2 614.4,218.5 616.5,220.0 618.4,221.5 620.4,223.4 622.4,225.3 624.5,227.3 626.5,229.0 628.6,230.5 630.8,231.9 632.9,233.3 634.9,234.6 636.6,236.0 639.6,239.1 642.0,243.0 643.8,246.6 645.7,250.8 648.0,256.0 649.8,259.9 651.8,264.4 654.0,269.2 656.1,273.8 658.0,278.0 660.1,282.4 662.0,286.2 663.9,290.0 666.0,294.0 667.8,297.5 669.8,301.2 671.8,305.0 673.8,308.6 676.0,312.0 677.9,314.6 679.9,316.9 681.9,319.2 683.9,321.4 686.0,323.7 688.0,326.0 690.1,328.6 692.2,331.5 694.4,334.4 696.4,337.1 698.3,339.4 700.0,341.0 702.1,342.0 703.6,341.3 706.0,340.0 707.6,339.4 709.5,338.7 711.7,337.8 713.9,336.8 716.1,335.9 718.1,334.9 720.0,334.0 722.3,332.8 724.3,331.6 726.2,330.4 728.1,329.2 730.0,328.0 732.0,326.8 734.1,325.7 736.1,324.6 738.1,323.4 740.0,322.0 742.1,320.0 744.1,317.7 746.0,315.3 748.0,313.0 750.0,310.6 752.0,308.1 754.0,305.8 756.0,304.0 758.0,302.8 760.0,302.0 762.0,301.5 764.0,301.0 766.0,300.5 767.9,300.1 769.9,299.8 772.0,299.5 773.9,299.3 776.0,299.1 778.0,298.9 780.1,298.8 782.0,298.8 784.2,298.9 786.2,299.1 788.1,299.4 790.0,299.8 792.3,300.1 794.6,300.5 797.0,302.0 799.1,304.4 801.4,307.5 803.8,310.9 806.0,314.0 808.1,316.6 810.1,319.1 812.0,321.5 814.0,324.0 816.0,326.4 818.0,328.6 820.0,331.1 822.0,334.0 824.0,337.5 825.9,341.5 827.9,345.7 830.0,350.0 831.9,353.5 833.9,357.1 835.9,360.7 838.0,364.4 840.0,368.0 842.0,371.6 844.0,375.3 846.0,378.9 848.0,382.5 850.0,386.0 852.1,389.5 854.3,393.0 856.5,396.3 858.6,399.4 860.5,402.0 862.7,404.4 864.7,406.2 866.6,407.6 868.5,409.0 870.5,410.4 872.6,411.6 874.6,412.7 876.5,414.0 878.6,416.1 880.4,418.3 882.5,420.0 884.3,420.6 886.2,420.9 888.3,421.0 890.5,421.0 892.2,420.9 894.0,420.7 895.8,420.5 898.0,420.2 900.5,420.0 902.2,419.9 904.1,419.8 906.2,419.8 908.4,419.7 910.6,419.7 912.8,419.6 914.9,419.4 916.8,419.2 918.5,419.0 921.0,418.5 923.0,418.0 924.8,417.2 926.6,416.3 928.6,415.0 930.5,413.6 932.5,412.0 934.6,410.1 936.7,408.1 938.7,406.1 940.6,404.0 942.7,401.4 944.7,398.5 946.7,395.6 948.6,392.7 950.6,390.0 952.6,387.4 954.7,384.8 956.7,382.3 958.7,380.0 960.7,378.0 963.1,376.0 965.4,374.5 967.6,373.2 970.0,372.0 972.0,371.0 973.9,370.0 976.0,369.1 978.0,368.4 980.0,368.0 982.0,368.1 984.1,368.5 986.1,369.1 988.1,369.6 990.0,370.0 992.2,370.1 994.2,370.1 996.2,370.0 998.0,369.8 1000.1,369.5 1002.1,369.1 1004.0,368.0 1005.9,366.0 1007.7,363.3 1010.0,360.0 1011.8,357.5 1013.8,354.6 1016.0,351.6 1018.1,348.6 1020.0,346.0 1022.2,343.1 1024.2,340.4 1026.2,338.1 1028.0,336.0 1030.0,334.3 1031.8,333.1 1034.0,331.0 1035.8,328.9 1037.8,326.3 1040.0,323.5 1042.1,320.7 1044.0,318.0 1046.1,315.0 1048.1,312.1 1050.0,309.1 1052.0,306.0 1054.0,302.6 1056.0,299.0 1058.0,295.4 1060.0,292.0 1062.0,288.9 1064.0,286.0 1066.0,283.1 1068.0,280.0 1069.9,276.8 1071.8,273.4 1073.7,269.9 1076.0,266.0 1077.8,263.1 1079.7,259.9 1081.8,256.6 1083.9,253.2 1086.0,250.0 1088.0,247.0 1090.1,244.1 1092.2,241.3 1094.4,238.5 1096.4,236.0 1098.3,233.8 1100.0,232.0 1102.4,230.1 1104.1,229.6 1106.0,229.0 1107.9,228.4 1109.9,227.9 1112.0,227.2 1114.0,226.0 1116.0,224.1 1117.9,221.8 1119.9,219.1 1122.0,216.0 1123.9,213.1 1125.9,209.7 1128.0,206.2 1130.1,202.8 1132.0,200.0 1134.2,197.2 1136.2,195.0 1138.2,193.0 1140.4,191.0 1142.3,189.4 1144.3,187.9 1146.3,186.4 1148.4,184.8 1150.4,183.0 1152.5,180.9 1154.6,178.5 1156.7,176.0 1158.6,173.8 1160.4,172.0 1162.6,170.2 1164.3,169.2 1166.5,168.4 1168.3,167.8 1170.2,167.4 1172.3,166.9 1174.4,166.5 1176.5,166.0 1178.5,165.5 1180.5,165.0 1182.5,164.4 1184.5,163.9 1186.5,163.3 1188.5,162.7 1190.6,162.0 1192.7,161.3 1194.7,160.6 1196.5,160.0 1199.1,159.0 1201.3,158.2 1203.5,158.0 1205.7,158.7 1207.9,160.0 1210.5,162.0 1212.3,163.5 1214.3,165.4 1216.4,167.4 1218.5,169.4 1220.6,171.5 1222.6,173.6 1224.6,175.7 1226.6,177.9 1228.6,180.0 1230.6,182.0 1232.6,183.8 1234.7,185.6 1236.7,187.2 1238.7,188.7 1240.6,190.0 1242.7,191.2 1244.7,192.0 1246.6,192.8 1248.6,194.0 1250.7,195.7 1252.8,197.7 1254.8,199.8 1256.6,202.0 1259.2,206.6 1262.0,211.0 1263.7,212.5 1265.5,213.9 1267.6,215.3 1269.7,216.6 1272.0,218.0 1274.1,219.1 1276.3,220.1 1278.7,221.1 1281.0,222.2 1283.1,223.5 1285.0,225.0 1287.7,228.6 1289.8,232.9 1292.0,238.0 1293.9,242.4 1295.8,247.4 1297.8,252.6 1300.0,258.0 1301.9,262.6 1303.9,267.4 1305.9,272.3 1308.0,276.9 1310.0,281.0 1312.0,284.4 1314.0,287.3 1316.0,290.0 1318.0,292.5 1320.0,295.0 1322.0,297.6 1324.0,300.1 1326.0,302.5 1328.0,304.8 1330.0,307.0 1332.0,309.0 1334.1,311.0 1336.1,312.8 1338.1,314.4 1340.0,316.0 1342.2,317.8 1344.3,319.5 1346.3,320.9 1348.0,322.0 1350.4,323.3 1353.0,323.7 1355.0,323.7 1357.3,323.4 1359.7,323.0 1362.0,322.5 1364.0,321.8 1365.8,320.9 1367.7,319.9 1370.0,319.0 1371.8,318.5 1373.9,318.2 1376.0,317.9 1378.1,317.4 1380.2,316.7 1382.0,315.5 1384.3,312.8 1386.2,309.4 1388.1,305.6 1390.0,302.0 1392.0,298.5 1393.9,295.0 1395.9,291.5 1398.0,288.0 1399.9,285.1 1401.9,282.2 1403.9,279.2 1406.0,276.5 1408.0,274.0 1410.0,271.8 1412.1,269.9 1414.1,268.1 1416.1,266.5 1418.0,265.0 1420.2,263.2 1422.3,261.5 1424.3,260.1 1426.0,259.0 1428.6,257.8 1431.0,258.0 1433.1,258.9 1435.4,260.5 1438.0,262.6 1439.8,264.1 1441.8,265.8 1443.9,267.8 1446.0,269.8 1448.0,272.0 1450.0,274.4 1452.0,276.9 1454.0,279.6 1456.0,282.3 1458.0,285.0 1460.0,287.8 1462.0,290.6 1464.0,293.5 1466.0,296.3 1468.0,299.0 1470.0,301.6 1472.1,304.3 1474.1,306.8 1476.1,309.0 1478.0,311.0 1480.1,312.9 1482.0,314.3 1483.9,315.5 1486.0,316.5 1487.9,317.3 1489.9,318.0 1491.9,318.5 1494.0,319.0 1496.0,319.5 1498.0,319.9 1500.1,320.2 1502.2,320.5 1504.2,320.7 1506.0,321.0 1509.0,321.6 1511.6,322.3 1513.5,322.7" fill="none" stroke="#f23645" stroke-width="2" stroke-linejoin="round" stroke-linecap="round" />
<line x1="0" y1="277.5" x2="1564" y2="277.5" stroke="#e50000" stroke-width="1" stroke-dasharray="1 2"/>
<line x1="0" y1="544.5" x2="1627" y2="544.5" stroke="#e0e3eb" stroke-width="1"/>
<line x1="1562.5" y1="0" x2="1562.5" y2="730" stroke="#efeff2" stroke-width="1"/>
<line x1="0" y1="584.5" x2="1563" y2="584.5" stroke="#6e7180" stroke-width="1" stroke-dasharray="5 6"/>
<line x1="0" y1="635.5" x2="1563" y2="635.5" stroke="#6e7180" stroke-width="1" stroke-dasharray="5 6"/>
<line x1="0" y1="687.5" x2="1563" y2="687.5" stroke="#6e7180" stroke-width="1" stroke-dasharray="5 6"/>
<polyline points="0.0,651.2 3.7,641.1 8.1,665.4 13.2,652.3 18.3,647.2 22.9,652.3 28.0,647.2 33.1,634.0 37.5,638.1 42.2,643.7 47.1,640.1 52.1,649.2 57.0,639.1 61.9,641.5 66.9,626.9 71.4,636.6 76.1,637.7 81.1,630.0 86.2,622.4 90.9,621.8 95.7,602.6 100.4,595.1 105.1,596.5 109.9,605.2 115.0,601.1 120.1,599.1 124.7,619.8 129.2,627.3 134.3,621.4 139.1,619.8 144.0,641.7 149.1,623.9 154.2,620.4 158.2,608.0 163.3,633.0 168.4,633.6 172.8,632.4 177.9,637.5 183.2,649.2 187.0,664.4 192.3,647.6 197.2,644.6 202.0,646.6 206.9,667.5 212.0,656.9 216.6,663.4 221.1,662.8 226.2,651.9 231.2,651.7 235.9,643.1 241.0,652.3 246.0,668.9 250.5,668.9 255.2,667.5 260.2,675.2 264.9,675.6 270.0,648.6 274.8,647.8 279.5,642.7 284.4,640.7 289.0,630.0 294.1,627.9 299.2,635.0 303.9,647.2 308.3,633.0 313.0,629.3 318.1,622.9 322.9,627.9 326.0,636.0 328.4,642.7 333.1,647.7 337.2,640.4 342.2,649.2 347.3,642.7 352.0,638.0 357.0,640.4 362.1,640.6 366.0,661.3 370.8,708.0 375.9,714.7 380.8,690.7 385.8,677.2 390.9,671.5 395.6,679.6 400.0,687.1 405.1,684.3 410.2,685.3 415.2,668.0 420.3,660.9 425.0,657.3 429.0,626.2 434.1,635.4 439.2,632.5 444.3,629.5 449.1,645.7 453.8,651.8 457.8,657.3 462.9,643.1 468.0,647.5 473.1,654.4 478.1,654.8 482.8,651.4 487.5,653.4 492.3,651.8 497.0,651.4 501.9,646.5 506.9,644.5 512.0,647.5 516.3,643.1 521.1,635.0 526.2,625.4 531.1,621.4 535.9,632.3 541.0,621.8 545.9,607.6 550.1,626.4 555.0,621.2 559.9,623.8 564.9,620.2 570.0,626.2 575.1,623.8 578.9,604.1 584.0,662.8 589.1,649.2 594.0,642.1 599.0,639.6 603.9,637.0 608.4,638.4 613.2,673.5 618.3,673.5 623.2,674.5 628.2,675.5 632.9,655.2 637.8,661.3 642.6,677.2 647.3,699.3 652.0,705.6 656.9,691.8 661.7,688.7 666.2,678.6 670.9,667.4 675.9,671.1 680.8,661.7 685.9,658.3 690.9,658.3 695.6,649.2 700.1,640.4 704.9,592.4 710.0,609.6 714.9,612.7 720.0,616.1 725.0,611.0 729.1,602.1 733.9,603.1 738.8,629.3 743.7,638.0 748.8,645.5 753.8,642.1 758.5,652.2 763.0,665.6 768.0,663.0 773.1,657.9 778.0,654.8 782.8,656.3 787.3,666.4 792.0,658.7 797.0,659.7 802.1,660.5 807.2,661.3 812.2,659.5 816.3,660.3 821.2,655.2 826.0,686.7 831.1,688.1 836.0,688.3 840.6,689.1 845.1,700.9 850.2,701.3 855.0,708.6 859.9,707.6 865.0,693.8 870.1,641.1 874.9,650.2 879.6,645.7 884.3,645.7 888.9,618.7 894.0,616.7 898.9,612.0 903.9,615.3 908.4,613.1 913.3,617.3 918.1,613.7 923.2,625.8 927.9,624.4 932.9,630.3 937.2,623.2 942.1,630.3 947.1,620.8 952.2,620.0 957.3,620.4 962.1,621.4 966.0,640.4 970.9,620.4 975.9,626.2 978.0,634.1 981.0,648.3 985.7,648.7 990.8,643.6 995.0,619.5 999.9,611.2 1005.0,604.1 1009.8,569.6 1014.9,563.5 1019.8,563.5 1024.7,593.5 1029.5,606.7 1034.0,619.3 1038.9,598.2 1043.7,592.1 1048.8,600.6 1053.7,598.2 1058.5,598.2 1063.0,586.4 1067.9,602.7 1072.9,603.1 1077.8,611.4 1082.9,611.2 1086.9,617.9 1092.0,616.2 1097.1,620.9 1101.9,605.7 1106.8,611.4 1111.9,596.6 1116.9,587.4 1121.6,578.3 1125.9,570.2 1130.9,587.0 1136.0,588.5 1140.9,608.7 1145.5,608.3 1150.0,616.4 1154.9,592.5 1159.9,601.6 1164.8,606.3 1169.7,637.7 1174.8,641.8 1179.2,639.2 1184.1,644.6 1189.0,644.2 1194.0,637.7 1198.9,641.8 1203.8,635.7 1208.2,648.3 1213.1,655.8 1218.0,643.6 1223.0,645.2 1227.9,639.8 1232.8,639.2 1237.4,640.4 1241.9,660.5 1247.0,632.7 1252.0,634.7 1256.9,653.0 1262.0,658.8 1266.0,645.9 1270.9,659.9 1276.0,646.9 1280.8,656.0 1285.9,657.8 1290.8,697.0 1295.4,702.5 1297.0,701.6 1300.0,700.4 1304.7,683.8 1309.8,652.8 1314.8,662.1 1319.9,644.6 1324.4,648.9 1328.8,649.9 1333.9,644.8 1338.8,623.3 1343.9,622.9 1348.9,627.4 1353.8,624.4 1358.5,615.4 1363.5,610.8 1368.0,608.3 1373.1,616.9 1378.1,621.5 1383.2,625.6 1387.7,632.1 1391.9,641.2 1396.8,637.1 1401.9,628.4 1406.7,628.2 1411.8,631.7 1416.1,626.0 1421.1,630.6 1426.0,648.3 1430.9,659.9 1435.9,662.1 1440.8,670.6 1445.7,669.0 1450.1,668.0 1455.2,661.1 1460.1,664.1 1465.0,669.0 1469.8,672.6 1473.9,674.7 1478.9,668.0 1483.8,649.9 1488.7,634.1 1493.8,619.9 1498.6,616.2 1503.7,617.3 1508.0,607.7 1513.0,614.4" fill="none" stroke="#7e57c2" stroke-width="1.1" stroke-linejoin="round" stroke-linecap="round" />
</svg>
<div id="ov">
<div class="tk" style="top:40.0px">1.05500</div>
<div class="tk" style="top:104.0px">1.05000</div>
<div class="tk" style="top:167.0px">1.04500</div>
<div class="tk" style="top:358.0px">1.03000</div>
<div class="tk" style="top:485.0px">1.02000</div>
<div class="tk" style="top:551.0px">80.00</div>
<div class="tk" style="top:602.0px">60.00</div>
<div class="tk" style="top:654.0px">40.00</div>
<div class="tk" style="top:705.0px">20.00</div>
<div class="pl" style="top:88.1px;height:16.6px;line-height:18.0px;background:#2a2e39;color:#fff;">1.05115</div>
<div class="pl" style="top:229.1px;height:16.6px;line-height:18.0px;background:#2a2e39;color:#fff;">1.03939</div>
<div class="pl" style="top:246.1px;height:16.6px;line-height:18.0px;background:#4caf50;color:#fff;">1.03877</div>
<div class="pl" style="top:269.1px;height:16.6px;line-height:18.0px;background:#e50000;color:#fff;">1.03690</div>
<div class="pl" style="top:286.1px;height:16.6px;line-height:18.0px;background:#2962ff;color:#fff;">1.03556</div>
<div class="pl" style="top:303.1px;height:16.6px;line-height:18.0px;background:#fbc02d;color:#1a1a1a;font-weight:normal;">1.03448</div>
<div class="pl" style="top:320.2px;height:16.6px;line-height:18.0px;background:#f23645;color:#fff;">1.03334</div>
<div class="pl" style="top:422.1px;height:16.6px;line-height:18.0px;background:#2a2e39;color:#fff;">1.02494</div>
<div class="pl" style="top:528px;height:16px;line-height:18px;background:#2a2e39;color:#fff;border-radius:2px 2px 0 0">1.01605</div>
<div class="pl" style="top:607.3px;width:43px;height:16.4px;line-height:17.8px;background:#7e57c2;color:#fff">58.00</div>
<div style="position:absolute;left:0;top:730px;width:1563px;height:28px;overflow:hidden"><div class="tl" style="left:50.7px;">5</div><div class="tl" style="left:142.7px;">10</div><div class="tl" style="left:229.7px;">13</div><div class="tl" style="left:321.7px;">18</div><div class="tl" style="left:408.7px;">22</div><div class="tl" style="left:505.7px;">27</div><div class="tl" style="left:597.7px;font-weight:bold;">2025</div><div class="tl" style="left:694.7px;">7</div><div class="tl" style="left:781.7px;">10</div><div class="tl" style="left:873.7px;">15</div><div class="tl" style="left:960.7px;">19</div><div class="tl" style="left:1052.7px;">23</div><div class="tl" style="left:1144.7px;">28</div><div class="tl" style="left:1260.7px;">Feb</div><div class="tl" style="left:1352.7px;">6</div><div class="tl" style="left:1443.7px;">11</div><div class="tl" style="left:1531.2px;">14</div></div>
<div class="fl" style="top:168px;width:97px;color:#089981">0.618 (1.04407)</div>
<div class="fl" style="top:230px;width:97px;color:#4caf50">0.5 (1.03922)</div>
<div class="fl" style="top:291px;width:97px;color:#ff9800">0.382 (1.03438)</div>
<div class="fl" style="top:368px;width:97px;color:#f23645">0.236 (1.02838)</div>
<div class="fl" style="top:491px;width:97px;color:#787b86">0 (1.01870)</div>
<div class="fl" style="top:80px;width:97px;color:#00bcd4">0.786 (1.05096)</div>
<div class="lg" style="top:5px;left:3px;width:538.7px;height:24px"></div>
<div class="lgt" style="top:7px;left:9.4px;font-size:14.5px;letter-spacing:0.07px">EUR/USD Spot · 4h</div>
<div class="ohlc" style="top:9px;left:188px"><span class="k">O</span>1.03759 <span class="k">H</span>1.03799 <span class="k">L</span>1.03681 <span class="k">C</span>1.03690 <span style="letter-spacing:-0.15px">−0.00065</span> <span style="letter-spacing:-0.55px">(−0.06%)</span></div>
<div class="lg" style="top:29px;left:3px;width:144px;height:24px"></div>
<div class="mal" style="top:34px;left:9.4px">MA 20 close 0</div>
<div class="mal" style="top:34px;left:97.2px;color:#f23645;letter-spacing:-0.15px">1.03334</div>
<div class="lg" style="top:53px;left:3px;width:144px;height:24px"></div>
<div class="mal" style="top:58px;left:9.4px">MA 50 close 0</div>
<div class="mal" style="top:58px;left:97.2px;color:#fbc02d;letter-spacing:-0.15px">1.03448</div>
<div class="lg" style="top:77px;left:3px;width:150.6px;height:24px"></div>
<div class="mal" style="top:82px;left:9.4px">MA 100 close 0</div>
<div class="mal" style="top:82px;left:103.5px;color:#4caf50;letter-spacing:-0.15px">1.03877</div>
<div class="lg" style="top:101px;left:3px;width:150.6px;height:24px"></div>
<div class="mal" style="top:106px;left:9.4px">MA 200 close 0</div>
<div class="mal" style="top:106px;left:103.5px;color:#2962ff;letter-spacing:-0.15px">1.03556</div>
<div style="position:absolute;left:9px;top:127px;width:27px;height:19px;border:1px solid #dfe1e8;border-radius:4px;background:rgba(255,255,255,0.8)"></div>
<svg style="position:absolute;left:9px;top:127px" width="29" height="21"><path d="M10 13.2 L14.5 8.8 L19 13.2" fill="none" stroke="#131722" stroke-width="1.4"/></svg>
<div class="mal" style="top:554px;left:9.2px;font-size:12.5px;letter-spacing:-0.55px">RSI 14</div>
<div class="mal" style="top:554px;left:52.7px;font-size:12.5px;color:#7e57c2">58.00</div>
<svg style="position:absolute;left:0;top:680px" width="60" height="45" viewBox="0 680 60 45"><circle cx="28.6" cy="701.9" r="16.2" fill="#fff" stroke="#d9dce8" stroke-width="1.3"/><path d="M18 697.1 H26.9 V707.8 H22.9 V700.9 H18 Z" fill="#131722"/><circle cx="30" cy="699.1" r="2" fill="#131722"/><path d="M33.6 697.1 H39.3 L34.8 707.8 H30 Z" fill="#131722"/></svg>
<svg style="position:absolute;left:1580px;top:735px" width="30" height="22" viewBox="1580 735 30 22"><path d="M1591.5 739.7 H1598.5 L1601.7 746 L1598.5 752.3 H1591.5 L1588.3 746 Z" fill="none" stroke="#2a2e39" stroke-width="1.2" stroke-linejoin="round"/><circle cx="1595" cy="746" r="1.9" fill="none" stroke="#2a2e39" stroke-width="1.2"/></svg>
<div style="position:absolute;left:155px;top:9px;width:16px;height:16px;border-radius:50%;background:rgba(8,153,129,0.2)"></div>
<div style="position:absolute;left:159px;top:13px;width:8px;height:8px;border-radius:50%;background:#089981"></div>
</div>
<div id="bot"></div><div id="top"></div><div id="cor"></div>
</div>
</body></html>
